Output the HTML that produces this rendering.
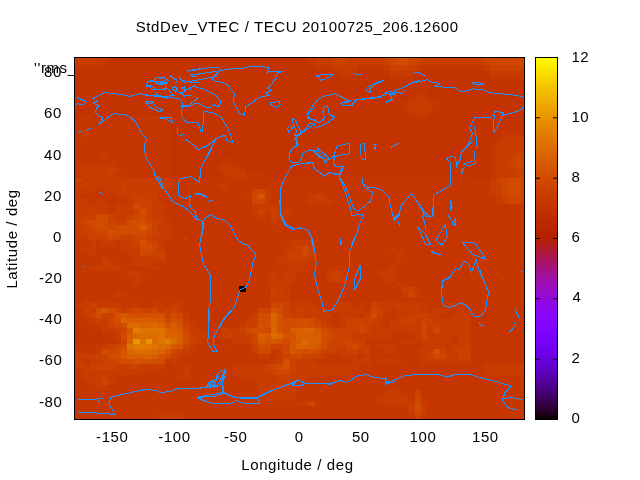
<!DOCTYPE html><html><head><meta charset="utf-8"><style>html,body{margin:0;padding:0;background:#fff;overflow:hidden}svg{display:block;will-change:transform}</style></head><body><svg width="640" height="480" viewBox="0 0 640 480"><rect x="0" y="0" width="640" height="480" fill="#fff"/><text x="34" y="73.2" font-size="15" letter-spacing="0.6" font-family="Liberation Sans, sans-serif">''rms_</text><rect x="75" y="58" width="449" height="361" fill="#c33300"/><g shape-rendering="crispEdges"><rect x="75.0" y="58.0" width="33.4" height="1.3" fill="#c83c00"/><rect x="108.4" y="58.0" width="6.2" height="1.3" fill="#c63700"/><rect x="302.1" y="58.0" width="6.2" height="1.3" fill="#c63700"/><rect x="308.4" y="58.0" width="18.8" height="1.3" fill="#c83c00"/><rect x="327.1" y="58.0" width="6.2" height="1.3" fill="#cb4100"/><rect x="333.4" y="58.0" width="12.5" height="1.3" fill="#ce4600"/><rect x="345.9" y="58.0" width="6.2" height="1.3" fill="#cb4100"/><rect x="352.1" y="58.0" width="25.0" height="1.3" fill="#c83c00"/><rect x="377.1" y="58.0" width="6.2" height="1.3" fill="#cb4100"/><rect x="383.4" y="58.0" width="6.2" height="1.3" fill="#ce4600"/><rect x="389.6" y="58.0" width="6.2" height="1.3" fill="#d04c00"/><rect x="395.9" y="58.0" width="12.5" height="1.3" fill="#d35100"/><rect x="408.4" y="58.0" width="6.2" height="1.3" fill="#d04c00"/><rect x="414.6" y="58.0" width="6.2" height="1.3" fill="#ce4600"/><rect x="420.9" y="58.0" width="6.2" height="1.3" fill="#cb4100"/><rect x="427.1" y="58.0" width="50.0" height="1.3" fill="#c83c00"/><rect x="477.1" y="58.0" width="6.2" height="1.3" fill="#cb4100"/><rect x="483.4" y="58.0" width="40.6" height="1.3" fill="#ce4600"/><rect x="75.0" y="59.3" width="27.1" height="5.2" fill="#c83c00"/><rect x="102.1" y="59.3" width="6.2" height="5.2" fill="#c63700"/><rect x="308.4" y="59.3" width="6.2" height="5.2" fill="#c63700"/><rect x="314.6" y="59.3" width="18.8" height="5.2" fill="#c83c00"/><rect x="333.4" y="59.3" width="12.5" height="5.2" fill="#cb4100"/><rect x="345.9" y="59.3" width="37.5" height="5.2" fill="#c83c00"/><rect x="383.4" y="59.3" width="6.2" height="5.2" fill="#cb4100"/><rect x="389.6" y="59.3" width="6.2" height="5.2" fill="#ce4600"/><rect x="395.9" y="59.3" width="12.5" height="5.2" fill="#d04c00"/><rect x="408.4" y="59.3" width="6.2" height="5.2" fill="#ce4600"/><rect x="414.6" y="59.3" width="6.2" height="5.2" fill="#cb4100"/><rect x="420.9" y="59.3" width="62.5" height="5.2" fill="#c83c00"/><rect x="483.4" y="59.3" width="6.2" height="5.2" fill="#cb4100"/><rect x="489.6" y="59.3" width="34.4" height="5.2" fill="#ce4600"/><rect x="75.0" y="64.5" width="27.1" height="5.2" fill="#c63700"/><rect x="314.6" y="64.5" width="18.8" height="5.2" fill="#c63700"/><rect x="333.4" y="64.5" width="25.0" height="5.2" fill="#c83c00"/><rect x="358.4" y="64.5" width="25.0" height="5.2" fill="#c63700"/><rect x="383.4" y="64.5" width="6.2" height="5.2" fill="#c83c00"/><rect x="389.6" y="64.5" width="25.0" height="5.2" fill="#cb4100"/><rect x="414.6" y="64.5" width="6.2" height="5.2" fill="#c83c00"/><rect x="420.9" y="64.5" width="62.5" height="5.2" fill="#c63700"/><rect x="483.4" y="64.5" width="6.2" height="5.2" fill="#c83c00"/><rect x="489.6" y="64.5" width="34.4" height="5.2" fill="#cb4100"/><rect x="333.4" y="69.6" width="6.2" height="5.2" fill="#c63700"/><rect x="339.6" y="69.6" width="12.5" height="5.2" fill="#c83c00"/><rect x="352.1" y="69.6" width="6.2" height="5.2" fill="#c63700"/><rect x="383.4" y="69.6" width="6.2" height="5.2" fill="#c63700"/><rect x="389.6" y="69.6" width="25.0" height="5.2" fill="#c83c00"/><rect x="414.6" y="69.6" width="6.2" height="5.2" fill="#c63700"/><rect x="483.4" y="69.6" width="6.2" height="5.2" fill="#c63700"/><rect x="489.6" y="69.6" width="34.4" height="5.2" fill="#c83c00"/><rect x="339.6" y="74.8" width="12.5" height="5.2" fill="#c63700"/><rect x="389.6" y="74.8" width="25.0" height="5.2" fill="#c63700"/><rect x="489.6" y="74.8" width="34.4" height="5.2" fill="#c63700"/><rect x="414.6" y="90.3" width="12.5" height="5.2" fill="#c63700"/><rect x="408.4" y="95.5" width="6.2" height="5.2" fill="#c63700"/><rect x="414.6" y="95.5" width="12.5" height="5.2" fill="#c83c00"/><rect x="427.1" y="95.5" width="6.2" height="5.2" fill="#c63700"/><rect x="402.1" y="100.7" width="6.2" height="5.2" fill="#c63700"/><rect x="408.4" y="100.7" width="25.0" height="5.2" fill="#c83c00"/><rect x="433.4" y="100.7" width="6.2" height="5.2" fill="#c63700"/><rect x="402.1" y="105.8" width="6.2" height="5.2" fill="#c63700"/><rect x="408.4" y="105.8" width="25.0" height="5.2" fill="#c83c00"/><rect x="433.4" y="105.8" width="6.2" height="5.2" fill="#c63700"/><rect x="408.4" y="111.0" width="6.2" height="5.2" fill="#c63700"/><rect x="414.6" y="111.0" width="12.5" height="5.2" fill="#c83c00"/><rect x="427.1" y="111.0" width="6.2" height="5.2" fill="#c63700"/><rect x="75.0" y="116.2" width="95.9" height="5.2" fill="#c43500"/><rect x="414.6" y="116.2" width="12.5" height="5.2" fill="#c63700"/><rect x="75.0" y="121.3" width="8.4" height="5.2" fill="#c63700"/><rect x="83.4" y="121.3" width="87.5" height="5.2" fill="#c43500"/><rect x="75.0" y="126.5" width="45.9" height="5.2" fill="#c63700"/><rect x="120.9" y="126.5" width="50.0" height="5.2" fill="#c43500"/><rect x="75.0" y="131.7" width="8.4" height="5.2" fill="#c63700"/><rect x="83.4" y="131.7" width="6.2" height="5.2" fill="#c83c00"/><rect x="89.6" y="131.7" width="37.5" height="5.2" fill="#c63700"/><rect x="127.1" y="131.7" width="43.8" height="5.2" fill="#c43500"/><rect x="502.1" y="131.7" width="21.9" height="5.2" fill="#c63700"/><rect x="75.0" y="136.9" width="52.1" height="5.2" fill="#c63700"/><rect x="127.1" y="136.9" width="43.8" height="5.2" fill="#c43500"/><rect x="495.9" y="136.9" width="6.2" height="5.2" fill="#c63700"/><rect x="502.1" y="136.9" width="21.9" height="5.2" fill="#c83c00"/><rect x="75.0" y="142.0" width="52.1" height="5.2" fill="#c63700"/><rect x="127.1" y="142.0" width="43.8" height="5.2" fill="#c43500"/><rect x="489.6" y="142.0" width="6.2" height="5.2" fill="#c63700"/><rect x="495.9" y="142.0" width="28.1" height="5.2" fill="#c83c00"/><rect x="75.0" y="147.2" width="52.1" height="5.2" fill="#c63700"/><rect x="127.1" y="147.2" width="43.8" height="5.2" fill="#c43500"/><rect x="489.6" y="147.2" width="6.2" height="5.2" fill="#c63700"/><rect x="495.9" y="147.2" width="28.1" height="5.2" fill="#c83c00"/><rect x="75.0" y="152.4" width="27.1" height="5.2" fill="#c63700"/><rect x="102.1" y="152.4" width="6.2" height="5.2" fill="#c83c00"/><rect x="108.4" y="152.4" width="18.8" height="5.2" fill="#c63700"/><rect x="127.1" y="152.4" width="43.8" height="5.2" fill="#c43500"/><rect x="489.6" y="152.4" width="6.2" height="5.2" fill="#c63700"/><rect x="495.9" y="152.4" width="18.8" height="5.2" fill="#c83c00"/><rect x="514.6" y="152.4" width="9.4" height="5.2" fill="#cb4100"/><rect x="75.0" y="157.5" width="52.1" height="5.2" fill="#c63700"/><rect x="127.1" y="157.5" width="43.8" height="5.2" fill="#c43500"/><rect x="220.9" y="157.5" width="12.5" height="5.2" fill="#c63700"/><rect x="489.6" y="157.5" width="6.2" height="5.2" fill="#c63700"/><rect x="495.9" y="157.5" width="12.5" height="5.2" fill="#c83c00"/><rect x="508.4" y="157.5" width="6.2" height="5.2" fill="#cb4100"/><rect x="514.6" y="157.5" width="9.4" height="5.2" fill="#ce4600"/><rect x="75.0" y="162.7" width="2.1" height="5.2" fill="#c63700"/><rect x="77.1" y="162.7" width="37.5" height="5.2" fill="#c83c00"/><rect x="114.6" y="162.7" width="18.8" height="5.2" fill="#c63700"/><rect x="133.4" y="162.7" width="37.5" height="5.2" fill="#c43500"/><rect x="214.6" y="162.7" width="6.2" height="5.2" fill="#c63700"/><rect x="220.9" y="162.7" width="12.5" height="5.2" fill="#c83c00"/><rect x="233.4" y="162.7" width="6.2" height="5.2" fill="#c63700"/><rect x="489.6" y="162.7" width="6.2" height="5.2" fill="#c63700"/><rect x="495.9" y="162.7" width="12.5" height="5.2" fill="#c83c00"/><rect x="508.4" y="162.7" width="6.2" height="5.2" fill="#cb4100"/><rect x="514.6" y="162.7" width="9.4" height="5.2" fill="#ce4600"/><rect x="75.0" y="167.9" width="2.1" height="5.2" fill="#c63700"/><rect x="77.1" y="167.9" width="31.2" height="5.2" fill="#c83c00"/><rect x="108.4" y="167.9" width="6.2" height="5.2" fill="#cb4100"/><rect x="114.6" y="167.9" width="6.2" height="5.2" fill="#c83c00"/><rect x="120.9" y="167.9" width="12.5" height="5.2" fill="#c63700"/><rect x="133.4" y="167.9" width="37.5" height="5.2" fill="#c43500"/><rect x="214.6" y="167.9" width="6.2" height="5.2" fill="#c63700"/><rect x="220.9" y="167.9" width="18.8" height="5.2" fill="#c83c00"/><rect x="239.6" y="167.9" width="6.2" height="5.2" fill="#c63700"/><rect x="489.6" y="167.9" width="6.2" height="5.2" fill="#c63700"/><rect x="495.9" y="167.9" width="18.8" height="5.2" fill="#c83c00"/><rect x="514.6" y="167.9" width="9.4" height="5.2" fill="#cb4100"/><rect x="75.0" y="173.1" width="8.4" height="5.2" fill="#c63700"/><rect x="83.4" y="173.1" width="31.2" height="5.2" fill="#c83c00"/><rect x="114.6" y="173.1" width="18.8" height="5.2" fill="#c63700"/><rect x="133.4" y="173.1" width="37.5" height="5.2" fill="#c43500"/><rect x="220.9" y="173.1" width="6.2" height="5.2" fill="#c63700"/><rect x="227.1" y="173.1" width="18.8" height="5.2" fill="#c83c00"/><rect x="245.9" y="173.1" width="18.8" height="5.2" fill="#c63700"/><rect x="489.6" y="173.1" width="6.2" height="5.2" fill="#c63700"/><rect x="495.9" y="173.1" width="18.8" height="5.2" fill="#c83c00"/><rect x="514.6" y="173.1" width="9.4" height="5.2" fill="#cb4100"/><rect x="75.0" y="178.2" width="8.4" height="5.2" fill="#cb4100"/><rect x="83.4" y="178.2" width="87.5" height="5.2" fill="#c83c00"/><rect x="170.9" y="178.2" width="6.2" height="5.2" fill="#c63700"/><rect x="177.1" y="178.2" width="37.5" height="5.2" fill="#c43500"/><rect x="214.6" y="178.2" width="68.8" height="5.2" fill="#c63700"/><rect x="283.4" y="178.2" width="187.5" height="5.2" fill="#c43500"/><rect x="470.9" y="178.2" width="18.8" height="5.2" fill="#c63700"/><rect x="489.6" y="178.2" width="6.2" height="5.2" fill="#c83c00"/><rect x="495.9" y="178.2" width="6.2" height="5.2" fill="#cb4100"/><rect x="502.1" y="178.2" width="6.2" height="5.2" fill="#ce4600"/><rect x="508.4" y="178.2" width="12.5" height="5.2" fill="#d04c00"/><rect x="520.9" y="178.2" width="3.1" height="5.2" fill="#ce4600"/><rect x="75.0" y="183.4" width="45.9" height="5.2" fill="#c83c00"/><rect x="120.9" y="183.4" width="6.2" height="5.2" fill="#cb4100"/><rect x="127.1" y="183.4" width="43.8" height="5.2" fill="#c83c00"/><rect x="170.9" y="183.4" width="6.2" height="5.2" fill="#c63700"/><rect x="177.1" y="183.4" width="37.5" height="5.2" fill="#c43500"/><rect x="214.6" y="183.4" width="6.2" height="5.2" fill="#c63700"/><rect x="220.9" y="183.4" width="6.2" height="5.2" fill="#c83c00"/><rect x="227.1" y="183.4" width="56.2" height="5.2" fill="#c63700"/><rect x="283.4" y="183.4" width="187.5" height="5.2" fill="#c43500"/><rect x="470.9" y="183.4" width="18.8" height="5.2" fill="#c63700"/><rect x="489.6" y="183.4" width="6.2" height="5.2" fill="#c83c00"/><rect x="495.9" y="183.4" width="6.2" height="5.2" fill="#cb4100"/><rect x="502.1" y="183.4" width="6.2" height="5.2" fill="#ce4600"/><rect x="508.4" y="183.4" width="12.5" height="5.2" fill="#d04c00"/><rect x="520.9" y="183.4" width="3.1" height="5.2" fill="#ce4600"/><rect x="75.0" y="188.6" width="8.4" height="5.2" fill="#c83c00"/><rect x="83.4" y="188.6" width="6.2" height="5.2" fill="#c63700"/><rect x="89.6" y="188.6" width="6.2" height="5.2" fill="#c83c00"/><rect x="95.9" y="188.6" width="12.5" height="5.2" fill="#c63700"/><rect x="108.4" y="188.6" width="12.5" height="5.2" fill="#c83c00"/><rect x="120.9" y="188.6" width="6.2" height="5.2" fill="#cb4100"/><rect x="127.1" y="188.6" width="31.2" height="5.2" fill="#c83c00"/><rect x="158.4" y="188.6" width="12.5" height="5.2" fill="#c63700"/><rect x="170.9" y="188.6" width="50.0" height="5.2" fill="#c43500"/><rect x="220.9" y="188.6" width="31.2" height="5.2" fill="#c63700"/><rect x="252.1" y="188.6" width="12.5" height="5.2" fill="#ce4600"/><rect x="264.6" y="188.6" width="6.2" height="5.2" fill="#c83c00"/><rect x="270.9" y="188.6" width="12.5" height="5.2" fill="#c63700"/><rect x="283.4" y="188.6" width="25.0" height="5.2" fill="#c43500"/><rect x="308.4" y="188.6" width="25.0" height="5.2" fill="#c63700"/><rect x="333.4" y="188.6" width="137.5" height="5.2" fill="#c43500"/><rect x="470.9" y="188.6" width="18.8" height="5.2" fill="#c63700"/><rect x="489.6" y="188.6" width="6.2" height="5.2" fill="#c83c00"/><rect x="495.9" y="188.6" width="6.2" height="5.2" fill="#cb4100"/><rect x="502.1" y="188.6" width="6.2" height="5.2" fill="#ce4600"/><rect x="508.4" y="188.6" width="12.5" height="5.2" fill="#d04c00"/><rect x="520.9" y="188.6" width="3.1" height="5.2" fill="#ce4600"/><rect x="75.0" y="193.7" width="2.1" height="5.2" fill="#c83c00"/><rect x="77.1" y="193.7" width="37.5" height="5.2" fill="#c63700"/><rect x="114.6" y="193.7" width="18.8" height="5.2" fill="#c83c00"/><rect x="133.4" y="193.7" width="12.5" height="5.2" fill="#cb4100"/><rect x="145.9" y="193.7" width="12.5" height="5.2" fill="#c83c00"/><rect x="158.4" y="193.7" width="12.5" height="5.2" fill="#c63700"/><rect x="170.9" y="193.7" width="62.5" height="5.2" fill="#c43500"/><rect x="233.4" y="193.7" width="12.5" height="5.2" fill="#c63700"/><rect x="245.9" y="193.7" width="6.2" height="5.2" fill="#c83c00"/><rect x="252.1" y="193.7" width="6.2" height="5.2" fill="#ce4600"/><rect x="258.4" y="193.7" width="6.2" height="5.2" fill="#d55700"/><rect x="264.6" y="193.7" width="6.2" height="5.2" fill="#c83c00"/><rect x="270.9" y="193.7" width="12.5" height="5.2" fill="#c63700"/><rect x="283.4" y="193.7" width="25.0" height="5.2" fill="#c43500"/><rect x="308.4" y="193.7" width="6.2" height="5.2" fill="#c83c00"/><rect x="314.6" y="193.7" width="6.2" height="5.2" fill="#cb4100"/><rect x="320.9" y="193.7" width="6.2" height="5.2" fill="#c83c00"/><rect x="327.1" y="193.7" width="6.2" height="5.2" fill="#c63700"/><rect x="333.4" y="193.7" width="137.5" height="5.2" fill="#c43500"/><rect x="470.9" y="193.7" width="25.0" height="5.2" fill="#c63700"/><rect x="495.9" y="193.7" width="6.2" height="5.2" fill="#c83c00"/><rect x="502.1" y="193.7" width="6.2" height="5.2" fill="#cb4100"/><rect x="508.4" y="193.7" width="12.5" height="5.2" fill="#ce4600"/><rect x="520.9" y="193.7" width="3.1" height="5.2" fill="#cb4100"/><rect x="75.0" y="198.9" width="14.6" height="5.2" fill="#c83c00"/><rect x="89.6" y="198.9" width="6.2" height="5.2" fill="#c63700"/><rect x="95.9" y="198.9" width="6.2" height="5.2" fill="#c83c00"/><rect x="102.1" y="198.9" width="25.0" height="5.2" fill="#c63700"/><rect x="127.1" y="198.9" width="6.2" height="5.2" fill="#c83c00"/><rect x="133.4" y="198.9" width="18.8" height="5.2" fill="#cb4100"/><rect x="152.1" y="198.9" width="6.2" height="5.2" fill="#c83c00"/><rect x="158.4" y="198.9" width="12.5" height="5.2" fill="#c63700"/><rect x="170.9" y="198.9" width="62.5" height="5.2" fill="#c43500"/><rect x="233.4" y="198.9" width="18.8" height="5.2" fill="#c63700"/><rect x="252.1" y="198.9" width="12.5" height="5.2" fill="#ce4600"/><rect x="264.6" y="198.9" width="6.2" height="5.2" fill="#c83c00"/><rect x="270.9" y="198.9" width="12.5" height="5.2" fill="#c63700"/><rect x="283.4" y="198.9" width="25.0" height="5.2" fill="#c43500"/><rect x="308.4" y="198.9" width="25.0" height="5.2" fill="#c83c00"/><rect x="333.4" y="198.9" width="12.5" height="5.2" fill="#c63700"/><rect x="345.9" y="198.9" width="125.0" height="5.2" fill="#c43500"/><rect x="470.9" y="198.9" width="25.0" height="5.2" fill="#c63700"/><rect x="495.9" y="198.9" width="6.2" height="5.2" fill="#c83c00"/><rect x="502.1" y="198.9" width="6.2" height="5.2" fill="#cb4100"/><rect x="508.4" y="198.9" width="12.5" height="5.2" fill="#ce4600"/><rect x="520.9" y="198.9" width="3.1" height="5.2" fill="#cb4100"/><rect x="75.0" y="204.1" width="33.4" height="5.2" fill="#c83c00"/><rect x="108.4" y="204.1" width="6.2" height="5.2" fill="#c63700"/><rect x="114.6" y="204.1" width="18.8" height="5.2" fill="#c83c00"/><rect x="133.4" y="204.1" width="6.2" height="5.2" fill="#d04c00"/><rect x="139.6" y="204.1" width="12.5" height="5.2" fill="#cb4100"/><rect x="152.1" y="204.1" width="12.5" height="5.2" fill="#c83c00"/><rect x="164.6" y="204.1" width="6.2" height="5.2" fill="#c63700"/><rect x="170.9" y="204.1" width="68.8" height="5.2" fill="#c43500"/><rect x="239.6" y="204.1" width="12.5" height="5.2" fill="#c63700"/><rect x="252.1" y="204.1" width="25.0" height="5.2" fill="#c83c00"/><rect x="277.1" y="204.1" width="12.5" height="5.2" fill="#c63700"/><rect x="289.6" y="204.1" width="18.8" height="5.2" fill="#c43500"/><rect x="308.4" y="204.1" width="25.0" height="5.2" fill="#c63700"/><rect x="333.4" y="204.1" width="137.5" height="5.2" fill="#c43500"/><rect x="470.9" y="204.1" width="53.1" height="5.2" fill="#c63700"/><rect x="75.0" y="209.3" width="14.6" height="5.2" fill="#c83c00"/><rect x="89.6" y="209.3" width="6.2" height="5.2" fill="#cb4100"/><rect x="95.9" y="209.3" width="12.5" height="5.2" fill="#c83c00"/><rect x="108.4" y="209.3" width="6.2" height="5.2" fill="#c63700"/><rect x="114.6" y="209.3" width="18.8" height="5.2" fill="#c83c00"/><rect x="133.4" y="209.3" width="6.2" height="5.2" fill="#cb4100"/><rect x="139.6" y="209.3" width="6.2" height="5.2" fill="#d24e00"/><rect x="145.9" y="209.3" width="6.2" height="5.2" fill="#cb4100"/><rect x="152.1" y="209.3" width="12.5" height="5.2" fill="#c83c00"/><rect x="164.6" y="209.3" width="6.2" height="5.2" fill="#c63700"/><rect x="170.9" y="209.3" width="68.8" height="5.2" fill="#c43500"/><rect x="239.6" y="209.3" width="12.5" height="5.2" fill="#c63700"/><rect x="252.1" y="209.3" width="6.2" height="5.2" fill="#c83c00"/><rect x="258.4" y="209.3" width="6.2" height="5.2" fill="#cb4100"/><rect x="264.6" y="209.3" width="6.2" height="5.2" fill="#c83c00"/><rect x="270.9" y="209.3" width="6.2" height="5.2" fill="#cb4100"/><rect x="277.1" y="209.3" width="12.5" height="5.2" fill="#c83c00"/><rect x="289.6" y="209.3" width="6.2" height="5.2" fill="#c63700"/><rect x="295.9" y="209.3" width="175.0" height="5.2" fill="#c43500"/><rect x="470.9" y="209.3" width="53.1" height="5.2" fill="#c63700"/><rect x="75.0" y="214.4" width="8.4" height="5.2" fill="#c83c00"/><rect x="83.4" y="214.4" width="12.5" height="5.2" fill="#cb4100"/><rect x="95.9" y="214.4" width="12.5" height="5.2" fill="#d04c00"/><rect x="108.4" y="214.4" width="6.2" height="5.2" fill="#cb4100"/><rect x="114.6" y="214.4" width="12.5" height="5.2" fill="#c83c00"/><rect x="127.1" y="214.4" width="6.2" height="5.2" fill="#cb4100"/><rect x="133.4" y="214.4" width="6.2" height="5.2" fill="#ce4600"/><rect x="139.6" y="214.4" width="6.2" height="5.2" fill="#d04c00"/><rect x="145.9" y="214.4" width="6.2" height="5.2" fill="#cb4100"/><rect x="152.1" y="214.4" width="12.5" height="5.2" fill="#c83c00"/><rect x="164.6" y="214.4" width="6.2" height="5.2" fill="#c63700"/><rect x="170.9" y="214.4" width="75.0" height="5.2" fill="#c43500"/><rect x="245.9" y="214.4" width="12.5" height="5.2" fill="#c63700"/><rect x="258.4" y="214.4" width="6.2" height="5.2" fill="#c83c00"/><rect x="264.6" y="214.4" width="6.2" height="5.2" fill="#c63700"/><rect x="270.9" y="214.4" width="6.2" height="5.2" fill="#cb4100"/><rect x="277.1" y="214.4" width="6.2" height="5.2" fill="#c83c00"/><rect x="283.4" y="214.4" width="12.5" height="5.2" fill="#c63700"/><rect x="295.9" y="214.4" width="175.0" height="5.2" fill="#c43500"/><rect x="470.9" y="214.4" width="53.1" height="5.2" fill="#c63700"/><rect x="75.0" y="219.6" width="2.1" height="5.2" fill="#c83c00"/><rect x="77.1" y="219.6" width="6.2" height="5.2" fill="#cb4100"/><rect x="83.4" y="219.6" width="6.2" height="5.2" fill="#ce4600"/><rect x="89.6" y="219.6" width="18.8" height="5.2" fill="#d04c00"/><rect x="108.4" y="219.6" width="18.8" height="5.2" fill="#cb4100"/><rect x="127.1" y="219.6" width="18.8" height="5.2" fill="#d04c00"/><rect x="145.9" y="219.6" width="6.2" height="5.2" fill="#ce4600"/><rect x="152.1" y="219.6" width="6.2" height="5.2" fill="#cb4100"/><rect x="158.4" y="219.6" width="12.5" height="5.2" fill="#c83c00"/><rect x="170.9" y="219.6" width="81.2" height="5.2" fill="#c43500"/><rect x="252.1" y="219.6" width="18.8" height="5.2" fill="#c63700"/><rect x="270.9" y="219.6" width="6.2" height="5.2" fill="#c83c00"/><rect x="277.1" y="219.6" width="12.5" height="5.2" fill="#c63700"/><rect x="289.6" y="219.6" width="181.2" height="5.2" fill="#c43500"/><rect x="470.9" y="219.6" width="53.1" height="5.2" fill="#c63700"/><rect x="75.0" y="224.8" width="2.1" height="5.2" fill="#c63700"/><rect x="77.1" y="224.8" width="6.2" height="5.2" fill="#c83c00"/><rect x="83.4" y="224.8" width="6.2" height="5.2" fill="#cb4100"/><rect x="89.6" y="224.8" width="6.2" height="5.2" fill="#ce4600"/><rect x="95.9" y="224.8" width="12.5" height="5.2" fill="#d04c00"/><rect x="108.4" y="224.8" width="6.2" height="5.2" fill="#ce4600"/><rect x="114.6" y="224.8" width="18.8" height="5.2" fill="#d04c00"/><rect x="133.4" y="224.8" width="6.2" height="5.2" fill="#d24e00"/><rect x="139.6" y="224.8" width="6.2" height="5.2" fill="#d85e00"/><rect x="145.9" y="224.8" width="6.2" height="5.2" fill="#d04c00"/><rect x="152.1" y="224.8" width="6.2" height="5.2" fill="#cb4100"/><rect x="158.4" y="224.8" width="12.5" height="5.2" fill="#c83c00"/><rect x="170.9" y="224.8" width="6.2" height="5.2" fill="#c63700"/><rect x="177.1" y="224.8" width="75.0" height="5.2" fill="#c43500"/><rect x="252.1" y="224.8" width="31.2" height="5.2" fill="#c63700"/><rect x="283.4" y="224.8" width="81.2" height="5.2" fill="#c43500"/><rect x="364.6" y="224.8" width="6.2" height="5.2" fill="#c63700"/><rect x="370.9" y="224.8" width="100.0" height="5.2" fill="#c43500"/><rect x="470.9" y="224.8" width="53.1" height="5.2" fill="#c63700"/><rect x="75.0" y="229.9" width="2.1" height="5.2" fill="#c63700"/><rect x="77.1" y="229.9" width="6.2" height="5.2" fill="#c83c00"/><rect x="83.4" y="229.9" width="12.5" height="5.2" fill="#cb4100"/><rect x="95.9" y="229.9" width="12.5" height="5.2" fill="#ce4600"/><rect x="108.4" y="229.9" width="6.2" height="5.2" fill="#d35100"/><rect x="114.6" y="229.9" width="31.2" height="5.2" fill="#d04c00"/><rect x="145.9" y="229.9" width="6.2" height="5.2" fill="#ce4600"/><rect x="152.1" y="229.9" width="6.2" height="5.2" fill="#cb4100"/><rect x="158.4" y="229.9" width="12.5" height="5.2" fill="#c83c00"/><rect x="170.9" y="229.9" width="6.2" height="5.2" fill="#c63700"/><rect x="177.1" y="229.9" width="81.2" height="5.2" fill="#c43500"/><rect x="258.4" y="229.9" width="31.2" height="5.2" fill="#c63700"/><rect x="289.6" y="229.9" width="68.8" height="5.2" fill="#c43500"/><rect x="358.4" y="229.9" width="12.5" height="5.2" fill="#c63700"/><rect x="370.9" y="229.9" width="100.0" height="5.2" fill="#c43500"/><rect x="470.9" y="229.9" width="53.1" height="5.2" fill="#c63700"/><rect x="75.0" y="235.1" width="2.1" height="5.2" fill="#c63700"/><rect x="77.1" y="235.1" width="12.5" height="5.2" fill="#c83c00"/><rect x="89.6" y="235.1" width="18.8" height="5.2" fill="#cb4100"/><rect x="108.4" y="235.1" width="12.5" height="5.2" fill="#ce4600"/><rect x="120.9" y="235.1" width="12.5" height="5.2" fill="#cb4100"/><rect x="133.4" y="235.1" width="12.5" height="5.2" fill="#ce4600"/><rect x="145.9" y="235.1" width="6.2" height="5.2" fill="#cb4100"/><rect x="152.1" y="235.1" width="18.8" height="5.2" fill="#c83c00"/><rect x="170.9" y="235.1" width="12.5" height="5.2" fill="#c63700"/><rect x="183.4" y="235.1" width="87.5" height="5.2" fill="#c43500"/><rect x="270.9" y="235.1" width="18.8" height="5.2" fill="#c63700"/><rect x="289.6" y="235.1" width="68.8" height="5.2" fill="#c43500"/><rect x="358.4" y="235.1" width="12.5" height="5.2" fill="#c63700"/><rect x="370.9" y="235.1" width="100.0" height="5.2" fill="#c43500"/><rect x="470.9" y="235.1" width="53.1" height="5.2" fill="#c63700"/><rect x="75.0" y="240.3" width="14.6" height="5.2" fill="#c63700"/><rect x="89.6" y="240.3" width="6.2" height="5.2" fill="#c83c00"/><rect x="95.9" y="240.3" width="6.2" height="5.2" fill="#c63700"/><rect x="102.1" y="240.3" width="12.5" height="5.2" fill="#c83c00"/><rect x="114.6" y="240.3" width="6.2" height="5.2" fill="#c63700"/><rect x="120.9" y="240.3" width="12.5" height="5.2" fill="#c83c00"/><rect x="133.4" y="240.3" width="6.2" height="5.2" fill="#cb4100"/><rect x="139.6" y="240.3" width="6.2" height="5.2" fill="#d35100"/><rect x="145.9" y="240.3" width="6.2" height="5.2" fill="#ce4600"/><rect x="152.1" y="240.3" width="6.2" height="5.2" fill="#cb4100"/><rect x="158.4" y="240.3" width="6.2" height="5.2" fill="#c83c00"/><rect x="164.6" y="240.3" width="18.8" height="5.2" fill="#c63700"/><rect x="183.4" y="240.3" width="81.2" height="5.2" fill="#c43500"/><rect x="264.6" y="240.3" width="25.0" height="5.2" fill="#c63700"/><rect x="289.6" y="240.3" width="25.0" height="5.2" fill="#c83c00"/><rect x="314.6" y="240.3" width="12.5" height="5.2" fill="#c63700"/><rect x="327.1" y="240.3" width="56.2" height="5.2" fill="#c43500"/><rect x="383.4" y="240.3" width="12.5" height="5.2" fill="#c63700"/><rect x="395.9" y="240.3" width="56.2" height="5.2" fill="#c43500"/><rect x="452.1" y="240.3" width="12.5" height="5.2" fill="#c63700"/><rect x="464.6" y="240.3" width="6.2" height="5.2" fill="#c43500"/><rect x="470.9" y="240.3" width="53.1" height="5.2" fill="#c63700"/><rect x="75.0" y="245.5" width="8.4" height="5.2" fill="#c63700"/><rect x="83.4" y="245.5" width="12.5" height="5.2" fill="#c83c00"/><rect x="95.9" y="245.5" width="25.0" height="5.2" fill="#c63700"/><rect x="120.9" y="245.5" width="18.8" height="5.2" fill="#c83c00"/><rect x="139.6" y="245.5" width="6.2" height="5.2" fill="#d04c00"/><rect x="145.9" y="245.5" width="6.2" height="5.2" fill="#d24e00"/><rect x="152.1" y="245.5" width="6.2" height="5.2" fill="#ce4600"/><rect x="158.4" y="245.5" width="6.2" height="5.2" fill="#c83c00"/><rect x="164.6" y="245.5" width="18.8" height="5.2" fill="#c63700"/><rect x="183.4" y="245.5" width="81.2" height="5.2" fill="#c43500"/><rect x="264.6" y="245.5" width="18.8" height="5.2" fill="#c63700"/><rect x="283.4" y="245.5" width="12.5" height="5.2" fill="#c83c00"/><rect x="295.9" y="245.5" width="6.2" height="5.2" fill="#cb4100"/><rect x="302.1" y="245.5" width="6.2" height="5.2" fill="#d04c00"/><rect x="308.4" y="245.5" width="6.2" height="5.2" fill="#cb4100"/><rect x="314.6" y="245.5" width="6.2" height="5.2" fill="#c63700"/><rect x="320.9" y="245.5" width="56.2" height="5.2" fill="#c43500"/><rect x="377.1" y="245.5" width="12.5" height="5.2" fill="#c63700"/><rect x="389.6" y="245.5" width="6.2" height="5.2" fill="#c83c00"/><rect x="395.9" y="245.5" width="6.2" height="5.2" fill="#c63700"/><rect x="402.1" y="245.5" width="50.0" height="5.2" fill="#c43500"/><rect x="452.1" y="245.5" width="6.2" height="5.2" fill="#c63700"/><rect x="458.4" y="245.5" width="12.5" height="5.2" fill="#c43500"/><rect x="470.9" y="245.5" width="53.1" height="5.2" fill="#c63700"/><rect x="75.0" y="250.6" width="14.6" height="5.2" fill="#c63700"/><rect x="89.6" y="250.6" width="6.2" height="5.2" fill="#c83c00"/><rect x="95.9" y="250.6" width="31.2" height="5.2" fill="#c63700"/><rect x="127.1" y="250.6" width="12.5" height="5.2" fill="#c83c00"/><rect x="139.6" y="250.6" width="12.5" height="5.2" fill="#ce4600"/><rect x="152.1" y="250.6" width="12.5" height="5.2" fill="#cb4100"/><rect x="164.6" y="250.6" width="18.8" height="5.2" fill="#c63700"/><rect x="183.4" y="250.6" width="81.2" height="5.2" fill="#c43500"/><rect x="264.6" y="250.6" width="18.8" height="5.2" fill="#c63700"/><rect x="283.4" y="250.6" width="6.2" height="5.2" fill="#c83c00"/><rect x="289.6" y="250.6" width="12.5" height="5.2" fill="#cb4100"/><rect x="302.1" y="250.6" width="6.2" height="5.2" fill="#ce4600"/><rect x="308.4" y="250.6" width="6.2" height="5.2" fill="#cb4100"/><rect x="314.6" y="250.6" width="6.2" height="5.2" fill="#c63700"/><rect x="320.9" y="250.6" width="62.5" height="5.2" fill="#c43500"/><rect x="383.4" y="250.6" width="12.5" height="5.2" fill="#c63700"/><rect x="395.9" y="250.6" width="6.2" height="5.2" fill="#c83c00"/><rect x="402.1" y="250.6" width="6.2" height="5.2" fill="#c63700"/><rect x="408.4" y="250.6" width="62.5" height="5.2" fill="#c43500"/><rect x="470.9" y="250.6" width="53.1" height="5.2" fill="#c63700"/><rect x="75.0" y="255.8" width="27.1" height="5.2" fill="#c63700"/><rect x="102.1" y="255.8" width="6.2" height="5.2" fill="#c83c00"/><rect x="108.4" y="255.8" width="25.0" height="5.2" fill="#c63700"/><rect x="133.4" y="255.8" width="25.0" height="5.2" fill="#c83c00"/><rect x="158.4" y="255.8" width="6.2" height="5.2" fill="#cb4100"/><rect x="164.6" y="255.8" width="18.8" height="5.2" fill="#c63700"/><rect x="183.4" y="255.8" width="81.2" height="5.2" fill="#c43500"/><rect x="264.6" y="255.8" width="12.5" height="5.2" fill="#c63700"/><rect x="277.1" y="255.8" width="12.5" height="5.2" fill="#c83c00"/><rect x="289.6" y="255.8" width="18.8" height="5.2" fill="#cb4100"/><rect x="308.4" y="255.8" width="6.2" height="5.2" fill="#c83c00"/><rect x="314.6" y="255.8" width="6.2" height="5.2" fill="#c63700"/><rect x="320.9" y="255.8" width="62.5" height="5.2" fill="#c43500"/><rect x="383.4" y="255.8" width="12.5" height="5.2" fill="#c63700"/><rect x="395.9" y="255.8" width="6.2" height="5.2" fill="#c83c00"/><rect x="402.1" y="255.8" width="12.5" height="5.2" fill="#c63700"/><rect x="414.6" y="255.8" width="56.2" height="5.2" fill="#c43500"/><rect x="470.9" y="255.8" width="53.1" height="5.2" fill="#c63700"/><rect x="75.0" y="261.0" width="27.1" height="5.2" fill="#c63700"/><rect x="102.1" y="261.0" width="6.2" height="5.2" fill="#cb4100"/><rect x="108.4" y="261.0" width="6.2" height="5.2" fill="#c83c00"/><rect x="114.6" y="261.0" width="18.8" height="5.2" fill="#c63700"/><rect x="133.4" y="261.0" width="18.8" height="5.2" fill="#c83c00"/><rect x="152.1" y="261.0" width="31.2" height="5.2" fill="#c63700"/><rect x="183.4" y="261.0" width="81.2" height="5.2" fill="#c43500"/><rect x="264.6" y="261.0" width="18.8" height="5.2" fill="#c63700"/><rect x="283.4" y="261.0" width="25.0" height="5.2" fill="#c83c00"/><rect x="308.4" y="261.0" width="6.2" height="5.2" fill="#c63700"/><rect x="314.6" y="261.0" width="75.0" height="5.2" fill="#c43500"/><rect x="389.6" y="261.0" width="18.8" height="5.2" fill="#c63700"/><rect x="408.4" y="261.0" width="62.5" height="5.2" fill="#c43500"/><rect x="470.9" y="261.0" width="53.1" height="5.2" fill="#c63700"/><rect x="75.0" y="266.1" width="14.6" height="5.2" fill="#c63700"/><rect x="89.6" y="266.1" width="31.2" height="5.2" fill="#c83c00"/><rect x="120.9" y="266.1" width="6.2" height="5.2" fill="#c63700"/><rect x="127.1" y="266.1" width="6.2" height="5.2" fill="#c43500"/><rect x="133.4" y="266.1" width="18.8" height="5.2" fill="#c63700"/><rect x="152.1" y="266.1" width="6.2" height="5.2" fill="#c83c00"/><rect x="158.4" y="266.1" width="25.0" height="5.2" fill="#c63700"/><rect x="183.4" y="266.1" width="81.2" height="5.2" fill="#c43500"/><rect x="264.6" y="266.1" width="25.0" height="5.2" fill="#c63700"/><rect x="289.6" y="266.1" width="12.5" height="5.2" fill="#c83c00"/><rect x="302.1" y="266.1" width="12.5" height="5.2" fill="#c63700"/><rect x="314.6" y="266.1" width="12.5" height="5.2" fill="#c43500"/><rect x="327.1" y="266.1" width="18.8" height="5.2" fill="#c63700"/><rect x="345.9" y="266.1" width="31.2" height="5.2" fill="#c43500"/><rect x="377.1" y="266.1" width="12.5" height="5.2" fill="#c63700"/><rect x="389.6" y="266.1" width="6.2" height="5.2" fill="#c83c00"/><rect x="395.9" y="266.1" width="18.8" height="5.2" fill="#c63700"/><rect x="414.6" y="266.1" width="56.2" height="5.2" fill="#c43500"/><rect x="470.9" y="266.1" width="53.1" height="5.2" fill="#c63700"/><rect x="75.0" y="271.3" width="52.1" height="5.2" fill="#c63700"/><rect x="127.1" y="271.3" width="12.5" height="5.2" fill="#c83c00"/><rect x="139.6" y="271.3" width="43.8" height="5.2" fill="#c63700"/><rect x="183.4" y="271.3" width="81.2" height="5.2" fill="#c43500"/><rect x="264.6" y="271.3" width="6.2" height="5.2" fill="#c63700"/><rect x="270.9" y="271.3" width="6.2" height="5.2" fill="#c83c00"/><rect x="277.1" y="271.3" width="6.2" height="5.2" fill="#c63700"/><rect x="283.4" y="271.3" width="12.5" height="5.2" fill="#c83c00"/><rect x="295.9" y="271.3" width="12.5" height="5.2" fill="#c63700"/><rect x="308.4" y="271.3" width="18.8" height="5.2" fill="#c43500"/><rect x="327.1" y="271.3" width="6.2" height="5.2" fill="#c83c00"/><rect x="333.4" y="271.3" width="6.2" height="5.2" fill="#cb4100"/><rect x="339.6" y="271.3" width="6.2" height="5.2" fill="#c83c00"/><rect x="345.9" y="271.3" width="31.2" height="5.2" fill="#c43500"/><rect x="377.1" y="271.3" width="18.8" height="5.2" fill="#c83c00"/><rect x="395.9" y="271.3" width="18.8" height="5.2" fill="#c63700"/><rect x="414.6" y="271.3" width="6.2" height="5.2" fill="#c43500"/><rect x="420.9" y="271.3" width="6.2" height="5.2" fill="#c63700"/><rect x="427.1" y="271.3" width="43.8" height="5.2" fill="#c43500"/><rect x="470.9" y="271.3" width="53.1" height="5.2" fill="#c63700"/><rect x="75.0" y="276.5" width="58.4" height="5.2" fill="#c63700"/><rect x="133.4" y="276.5" width="12.5" height="5.2" fill="#c83c00"/><rect x="145.9" y="276.5" width="37.5" height="5.2" fill="#c63700"/><rect x="183.4" y="276.5" width="81.2" height="5.2" fill="#c43500"/><rect x="264.6" y="276.5" width="6.2" height="5.2" fill="#c63700"/><rect x="270.9" y="276.5" width="25.0" height="5.2" fill="#c83c00"/><rect x="295.9" y="276.5" width="12.5" height="5.2" fill="#c63700"/><rect x="308.4" y="276.5" width="18.8" height="5.2" fill="#c43500"/><rect x="327.1" y="276.5" width="6.2" height="5.2" fill="#c83c00"/><rect x="333.4" y="276.5" width="6.2" height="5.2" fill="#cb4100"/><rect x="339.6" y="276.5" width="6.2" height="5.2" fill="#c83c00"/><rect x="345.9" y="276.5" width="31.2" height="5.2" fill="#c43500"/><rect x="377.1" y="276.5" width="6.2" height="5.2" fill="#c63700"/><rect x="383.4" y="276.5" width="12.5" height="5.2" fill="#c83c00"/><rect x="395.9" y="276.5" width="12.5" height="5.2" fill="#c63700"/><rect x="408.4" y="276.5" width="12.5" height="5.2" fill="#c43500"/><rect x="420.9" y="276.5" width="6.2" height="5.2" fill="#c63700"/><rect x="427.1" y="276.5" width="43.8" height="5.2" fill="#c43500"/><rect x="470.9" y="276.5" width="53.1" height="5.2" fill="#c63700"/><rect x="75.0" y="281.7" width="58.4" height="5.2" fill="#c63700"/><rect x="133.4" y="281.7" width="6.2" height="5.2" fill="#c83c00"/><rect x="139.6" y="281.7" width="43.8" height="5.2" fill="#c63700"/><rect x="183.4" y="281.7" width="81.2" height="5.2" fill="#c43500"/><rect x="264.6" y="281.7" width="6.2" height="5.2" fill="#c63700"/><rect x="270.9" y="281.7" width="18.8" height="5.2" fill="#c83c00"/><rect x="289.6" y="281.7" width="18.8" height="5.2" fill="#c63700"/><rect x="308.4" y="281.7" width="18.8" height="5.2" fill="#c43500"/><rect x="327.1" y="281.7" width="18.8" height="5.2" fill="#c63700"/><rect x="345.9" y="281.7" width="31.2" height="5.2" fill="#c43500"/><rect x="377.1" y="281.7" width="18.8" height="5.2" fill="#c63700"/><rect x="395.9" y="281.7" width="6.2" height="5.2" fill="#c83c00"/><rect x="402.1" y="281.7" width="25.0" height="5.2" fill="#c63700"/><rect x="427.1" y="281.7" width="43.8" height="5.2" fill="#c43500"/><rect x="470.9" y="281.7" width="53.1" height="5.2" fill="#c63700"/><rect x="75.0" y="286.8" width="108.4" height="5.2" fill="#c63700"/><rect x="183.4" y="286.8" width="56.2" height="5.2" fill="#c43500"/><rect x="245.9" y="286.8" width="18.8" height="5.2" fill="#c43500"/><rect x="264.6" y="286.8" width="6.2" height="5.2" fill="#c63700"/><rect x="270.9" y="286.8" width="12.5" height="5.2" fill="#cb4100"/><rect x="283.4" y="286.8" width="6.2" height="5.2" fill="#c83c00"/><rect x="289.6" y="286.8" width="18.8" height="5.2" fill="#c63700"/><rect x="308.4" y="286.8" width="75.0" height="5.2" fill="#c43500"/><rect x="383.4" y="286.8" width="18.8" height="5.2" fill="#c63700"/><rect x="402.1" y="286.8" width="12.5" height="5.2" fill="#cb4100"/><rect x="414.6" y="286.8" width="6.2" height="5.2" fill="#c83c00"/><rect x="420.9" y="286.8" width="6.2" height="5.2" fill="#c63700"/><rect x="427.1" y="286.8" width="43.8" height="5.2" fill="#c43500"/><rect x="470.9" y="286.8" width="53.1" height="5.2" fill="#c63700"/><rect x="75.0" y="292.0" width="39.6" height="5.2" fill="#c63700"/><rect x="114.6" y="292.0" width="12.5" height="5.2" fill="#c83c00"/><rect x="127.1" y="292.0" width="56.2" height="5.2" fill="#c63700"/><rect x="183.4" y="292.0" width="81.2" height="5.2" fill="#c43500"/><rect x="264.6" y="292.0" width="6.2" height="5.2" fill="#c63700"/><rect x="270.9" y="292.0" width="6.2" height="5.2" fill="#cb4100"/><rect x="277.1" y="292.0" width="12.5" height="5.2" fill="#c83c00"/><rect x="289.6" y="292.0" width="18.8" height="5.2" fill="#c63700"/><rect x="308.4" y="292.0" width="75.0" height="5.2" fill="#c43500"/><rect x="383.4" y="292.0" width="18.8" height="5.2" fill="#c63700"/><rect x="402.1" y="292.0" width="6.2" height="5.2" fill="#c83c00"/><rect x="408.4" y="292.0" width="6.2" height="5.2" fill="#ce4600"/><rect x="414.6" y="292.0" width="6.2" height="5.2" fill="#c83c00"/><rect x="420.9" y="292.0" width="12.5" height="5.2" fill="#c63700"/><rect x="433.4" y="292.0" width="37.5" height="5.2" fill="#c43500"/><rect x="470.9" y="292.0" width="53.1" height="5.2" fill="#c63700"/><rect x="75.0" y="297.2" width="8.4" height="5.2" fill="#c63700"/><rect x="83.4" y="297.2" width="6.2" height="5.2" fill="#c83c00"/><rect x="89.6" y="297.2" width="93.8" height="5.2" fill="#c63700"/><rect x="183.4" y="297.2" width="81.2" height="5.2" fill="#c43500"/><rect x="264.6" y="297.2" width="6.2" height="5.2" fill="#c63700"/><rect x="270.9" y="297.2" width="18.8" height="5.2" fill="#c83c00"/><rect x="289.6" y="297.2" width="25.0" height="5.2" fill="#c63700"/><rect x="314.6" y="297.2" width="68.8" height="5.2" fill="#c43500"/><rect x="383.4" y="297.2" width="25.0" height="5.2" fill="#c63700"/><rect x="408.4" y="297.2" width="6.2" height="5.2" fill="#c83c00"/><rect x="414.6" y="297.2" width="18.8" height="5.2" fill="#c63700"/><rect x="433.4" y="297.2" width="37.5" height="5.2" fill="#c43500"/><rect x="470.9" y="297.2" width="53.1" height="5.2" fill="#c63700"/><rect x="75.0" y="302.3" width="14.6" height="5.2" fill="#c83c00"/><rect x="89.6" y="302.3" width="6.2" height="5.2" fill="#cb4100"/><rect x="95.9" y="302.3" width="25.0" height="5.2" fill="#c83c00"/><rect x="120.9" y="302.3" width="12.5" height="5.2" fill="#c63700"/><rect x="133.4" y="302.3" width="6.2" height="5.2" fill="#c83c00"/><rect x="139.6" y="302.3" width="12.5" height="5.2" fill="#c63700"/><rect x="152.1" y="302.3" width="12.5" height="5.2" fill="#c83c00"/><rect x="164.6" y="302.3" width="6.2" height="5.2" fill="#c63700"/><rect x="170.9" y="302.3" width="12.5" height="5.2" fill="#c83c00"/><rect x="183.4" y="302.3" width="12.5" height="5.2" fill="#c63700"/><rect x="195.9" y="302.3" width="62.5" height="5.2" fill="#c43500"/><rect x="258.4" y="302.3" width="12.5" height="5.2" fill="#c63700"/><rect x="270.9" y="302.3" width="12.5" height="5.2" fill="#ce4600"/><rect x="283.4" y="302.3" width="6.2" height="5.2" fill="#cb4100"/><rect x="289.6" y="302.3" width="25.0" height="5.2" fill="#c83c00"/><rect x="314.6" y="302.3" width="18.8" height="5.2" fill="#c63700"/><rect x="333.4" y="302.3" width="18.8" height="5.2" fill="#c83c00"/><rect x="352.1" y="302.3" width="6.2" height="5.2" fill="#c63700"/><rect x="358.4" y="302.3" width="6.2" height="5.2" fill="#c83c00"/><rect x="364.6" y="302.3" width="6.2" height="5.2" fill="#c63700"/><rect x="370.9" y="302.3" width="6.2" height="5.2" fill="#cb4100"/><rect x="377.1" y="302.3" width="50.0" height="5.2" fill="#c83c00"/><rect x="427.1" y="302.3" width="18.8" height="5.2" fill="#c63700"/><rect x="445.9" y="302.3" width="18.8" height="5.2" fill="#c83c00"/><rect x="464.6" y="302.3" width="6.2" height="5.2" fill="#c63700"/><rect x="470.9" y="302.3" width="50.0" height="5.2" fill="#c43500"/><rect x="520.9" y="302.3" width="3.1" height="5.2" fill="#c63700"/><rect x="75.0" y="307.5" width="8.4" height="5.2" fill="#c63700"/><rect x="83.4" y="307.5" width="6.2" height="5.2" fill="#cb4100"/><rect x="89.6" y="307.5" width="6.2" height="5.2" fill="#c83c00"/><rect x="95.9" y="307.5" width="6.2" height="5.2" fill="#d04c00"/><rect x="102.1" y="307.5" width="6.2" height="5.2" fill="#d55700"/><rect x="108.4" y="307.5" width="6.2" height="5.2" fill="#d04c00"/><rect x="114.6" y="307.5" width="6.2" height="5.2" fill="#cb4100"/><rect x="120.9" y="307.5" width="6.2" height="5.2" fill="#c83c00"/><rect x="127.1" y="307.5" width="6.2" height="5.2" fill="#cb4100"/><rect x="133.4" y="307.5" width="12.5" height="5.2" fill="#ce4600"/><rect x="145.9" y="307.5" width="6.2" height="5.2" fill="#cb4100"/><rect x="152.1" y="307.5" width="6.2" height="5.2" fill="#ce4600"/><rect x="158.4" y="307.5" width="6.2" height="5.2" fill="#c83c00"/><rect x="164.6" y="307.5" width="12.5" height="5.2" fill="#cb4100"/><rect x="177.1" y="307.5" width="6.2" height="5.2" fill="#c83c00"/><rect x="183.4" y="307.5" width="6.2" height="5.2" fill="#c63700"/><rect x="189.6" y="307.5" width="25.0" height="5.2" fill="#c43500"/><rect x="233.4" y="307.5" width="18.8" height="5.2" fill="#c43500"/><rect x="252.1" y="307.5" width="6.2" height="5.2" fill="#c63700"/><rect x="258.4" y="307.5" width="12.5" height="5.2" fill="#cb4100"/><rect x="270.9" y="307.5" width="6.2" height="5.2" fill="#d35100"/><rect x="277.1" y="307.5" width="6.2" height="5.2" fill="#d04c00"/><rect x="283.4" y="307.5" width="6.2" height="5.2" fill="#cb4100"/><rect x="289.6" y="307.5" width="6.2" height="5.2" fill="#c83c00"/><rect x="295.9" y="307.5" width="6.2" height="5.2" fill="#cb4100"/><rect x="302.1" y="307.5" width="18.8" height="5.2" fill="#c83c00"/><rect x="320.9" y="307.5" width="12.5" height="5.2" fill="#c63700"/><rect x="333.4" y="307.5" width="31.2" height="5.2" fill="#c83c00"/><rect x="364.6" y="307.5" width="6.2" height="5.2" fill="#c63700"/><rect x="370.9" y="307.5" width="6.2" height="5.2" fill="#ce4600"/><rect x="377.1" y="307.5" width="6.2" height="5.2" fill="#cb4100"/><rect x="383.4" y="307.5" width="6.2" height="5.2" fill="#c83c00"/><rect x="389.6" y="307.5" width="6.2" height="5.2" fill="#c63700"/><rect x="395.9" y="307.5" width="25.0" height="5.2" fill="#c83c00"/><rect x="420.9" y="307.5" width="12.5" height="5.2" fill="#c63700"/><rect x="433.4" y="307.5" width="12.5" height="5.2" fill="#c83c00"/><rect x="445.9" y="307.5" width="12.5" height="5.2" fill="#c63700"/><rect x="458.4" y="307.5" width="6.2" height="5.2" fill="#c83c00"/><rect x="464.6" y="307.5" width="6.2" height="5.2" fill="#c63700"/><rect x="470.9" y="307.5" width="50.0" height="5.2" fill="#c43500"/><rect x="520.9" y="307.5" width="3.1" height="5.2" fill="#c63700"/><rect x="75.0" y="312.7" width="2.1" height="5.2" fill="#c43500"/><rect x="77.1" y="312.7" width="6.2" height="5.2" fill="#c63700"/><rect x="83.4" y="312.7" width="6.2" height="5.2" fill="#c83c00"/><rect x="89.6" y="312.7" width="6.2" height="5.2" fill="#cb4100"/><rect x="95.9" y="312.7" width="6.2" height="5.2" fill="#d04c00"/><rect x="102.1" y="312.7" width="12.5" height="5.2" fill="#cb4100"/><rect x="114.6" y="312.7" width="6.2" height="5.2" fill="#d35100"/><rect x="120.9" y="312.7" width="6.2" height="5.2" fill="#d55700"/><rect x="127.1" y="312.7" width="6.2" height="5.2" fill="#d35100"/><rect x="133.4" y="312.7" width="12.5" height="5.2" fill="#d24e00"/><rect x="145.9" y="312.7" width="18.8" height="5.2" fill="#d35100"/><rect x="164.6" y="312.7" width="6.2" height="5.2" fill="#cb4100"/><rect x="170.9" y="312.7" width="6.2" height="5.2" fill="#d04c00"/><rect x="177.1" y="312.7" width="6.2" height="5.2" fill="#ce4600"/><rect x="183.4" y="312.7" width="6.2" height="5.2" fill="#c83c00"/><rect x="189.6" y="312.7" width="6.2" height="5.2" fill="#c63700"/><rect x="195.9" y="312.7" width="12.5" height="5.2" fill="#c43500"/><rect x="227.1" y="312.7" width="18.8" height="5.2" fill="#c43500"/><rect x="245.9" y="312.7" width="6.2" height="5.2" fill="#c63700"/><rect x="252.1" y="312.7" width="6.2" height="5.2" fill="#c83c00"/><rect x="258.4" y="312.7" width="12.5" height="5.2" fill="#d04c00"/><rect x="270.9" y="312.7" width="6.2" height="5.2" fill="#da6500"/><rect x="277.1" y="312.7" width="6.2" height="5.2" fill="#d35100"/><rect x="283.4" y="312.7" width="6.2" height="5.2" fill="#cb4100"/><rect x="289.6" y="312.7" width="6.2" height="5.2" fill="#c83c00"/><rect x="295.9" y="312.7" width="6.2" height="5.2" fill="#cb4100"/><rect x="302.1" y="312.7" width="31.2" height="5.2" fill="#c83c00"/><rect x="333.4" y="312.7" width="6.2" height="5.2" fill="#c43500"/><rect x="339.6" y="312.7" width="18.8" height="5.2" fill="#c83c00"/><rect x="358.4" y="312.7" width="6.2" height="5.2" fill="#c63700"/><rect x="364.6" y="312.7" width="6.2" height="5.2" fill="#c83c00"/><rect x="370.9" y="312.7" width="6.2" height="5.2" fill="#d04c00"/><rect x="377.1" y="312.7" width="6.2" height="5.2" fill="#cb4100"/><rect x="383.4" y="312.7" width="12.5" height="5.2" fill="#c63700"/><rect x="395.9" y="312.7" width="18.8" height="5.2" fill="#c83c00"/><rect x="414.6" y="312.7" width="12.5" height="5.2" fill="#cb4100"/><rect x="427.1" y="312.7" width="12.5" height="5.2" fill="#c83c00"/><rect x="439.6" y="312.7" width="12.5" height="5.2" fill="#c63700"/><rect x="452.1" y="312.7" width="18.8" height="5.2" fill="#c83c00"/><rect x="470.9" y="312.7" width="50.0" height="5.2" fill="#c43500"/><rect x="520.9" y="312.7" width="3.1" height="5.2" fill="#c63700"/><rect x="75.0" y="317.9" width="8.4" height="5.2" fill="#c43500"/><rect x="83.4" y="317.9" width="6.2" height="5.2" fill="#c63700"/><rect x="89.6" y="317.9" width="6.2" height="5.2" fill="#c83c00"/><rect x="95.9" y="317.9" width="6.2" height="5.2" fill="#cb4100"/><rect x="102.1" y="317.9" width="6.2" height="5.2" fill="#c83c00"/><rect x="108.4" y="317.9" width="6.2" height="5.2" fill="#ce4600"/><rect x="114.6" y="317.9" width="6.2" height="5.2" fill="#d24e00"/><rect x="120.9" y="317.9" width="6.2" height="5.2" fill="#da6500"/><rect x="127.1" y="317.9" width="31.2" height="5.2" fill="#d85e00"/><rect x="158.4" y="317.9" width="6.2" height="5.2" fill="#d55700"/><rect x="164.6" y="317.9" width="6.2" height="5.2" fill="#ce4600"/><rect x="170.9" y="317.9" width="6.2" height="5.2" fill="#d24e00"/><rect x="177.1" y="317.9" width="6.2" height="5.2" fill="#d04c00"/><rect x="183.4" y="317.9" width="6.2" height="5.2" fill="#c83c00"/><rect x="189.6" y="317.9" width="12.5" height="5.2" fill="#c63700"/><rect x="202.1" y="317.9" width="6.2" height="5.2" fill="#c43500"/><rect x="227.1" y="317.9" width="6.2" height="5.2" fill="#c43500"/><rect x="233.4" y="317.9" width="12.5" height="5.2" fill="#c63700"/><rect x="245.9" y="317.9" width="6.2" height="5.2" fill="#c83c00"/><rect x="252.1" y="317.9" width="6.2" height="5.2" fill="#cb4100"/><rect x="258.4" y="317.9" width="6.2" height="5.2" fill="#d04c00"/><rect x="264.6" y="317.9" width="6.2" height="5.2" fill="#d24e00"/><rect x="270.9" y="317.9" width="6.2" height="5.2" fill="#da6500"/><rect x="277.1" y="317.9" width="6.2" height="5.2" fill="#d35100"/><rect x="283.4" y="317.9" width="18.8" height="5.2" fill="#d04c00"/><rect x="302.1" y="317.9" width="6.2" height="5.2" fill="#d24e00"/><rect x="308.4" y="317.9" width="6.2" height="5.2" fill="#d04c00"/><rect x="314.6" y="317.9" width="6.2" height="5.2" fill="#cb4100"/><rect x="320.9" y="317.9" width="6.2" height="5.2" fill="#c83c00"/><rect x="327.1" y="317.9" width="12.5" height="5.2" fill="#c63700"/><rect x="339.6" y="317.9" width="6.2" height="5.2" fill="#c83c00"/><rect x="345.9" y="317.9" width="31.2" height="5.2" fill="#cb4100"/><rect x="377.1" y="317.9" width="6.2" height="5.2" fill="#c83c00"/><rect x="383.4" y="317.9" width="6.2" height="5.2" fill="#c63700"/><rect x="389.6" y="317.9" width="12.5" height="5.2" fill="#c83c00"/><rect x="402.1" y="317.9" width="12.5" height="5.2" fill="#cb4100"/><rect x="414.6" y="317.9" width="6.2" height="5.2" fill="#c83c00"/><rect x="420.9" y="317.9" width="12.5" height="5.2" fill="#cb4100"/><rect x="433.4" y="317.9" width="37.5" height="5.2" fill="#c83c00"/><rect x="470.9" y="317.9" width="50.0" height="5.2" fill="#c43500"/><rect x="520.9" y="317.9" width="3.1" height="5.2" fill="#c63700"/><rect x="83.4" y="323.0" width="6.2" height="5.2" fill="#c43500"/><rect x="89.6" y="323.0" width="12.5" height="5.2" fill="#c63700"/><rect x="102.1" y="323.0" width="6.2" height="5.2" fill="#c83c00"/><rect x="108.4" y="323.0" width="6.2" height="5.2" fill="#cb4100"/><rect x="114.6" y="323.0" width="6.2" height="5.2" fill="#ce4600"/><rect x="120.9" y="323.0" width="6.2" height="5.2" fill="#d04c00"/><rect x="127.1" y="323.0" width="12.5" height="5.2" fill="#dd6c00"/><rect x="139.6" y="323.0" width="6.2" height="5.2" fill="#da6500"/><rect x="145.9" y="323.0" width="12.5" height="5.2" fill="#dc6800"/><rect x="158.4" y="323.0" width="6.2" height="5.2" fill="#da6500"/><rect x="164.6" y="323.0" width="6.2" height="5.2" fill="#d35100"/><rect x="170.9" y="323.0" width="6.2" height="5.2" fill="#d85e00"/><rect x="177.1" y="323.0" width="6.2" height="5.2" fill="#d35100"/><rect x="183.4" y="323.0" width="6.2" height="5.2" fill="#cb4100"/><rect x="189.6" y="323.0" width="6.2" height="5.2" fill="#c83c00"/><rect x="195.9" y="323.0" width="6.2" height="5.2" fill="#c63700"/><rect x="202.1" y="323.0" width="18.8" height="5.2" fill="#c43500"/><rect x="220.9" y="323.0" width="18.8" height="5.2" fill="#c63700"/><rect x="239.6" y="323.0" width="6.2" height="5.2" fill="#c83c00"/><rect x="245.9" y="323.0" width="12.5" height="5.2" fill="#cb4100"/><rect x="258.4" y="323.0" width="12.5" height="5.2" fill="#d35100"/><rect x="270.9" y="323.0" width="6.2" height="5.2" fill="#da6500"/><rect x="277.1" y="323.0" width="6.2" height="5.2" fill="#d35100"/><rect x="283.4" y="323.0" width="12.5" height="5.2" fill="#d04c00"/><rect x="295.9" y="323.0" width="6.2" height="5.2" fill="#d24e00"/><rect x="302.1" y="323.0" width="6.2" height="5.2" fill="#d35100"/><rect x="308.4" y="323.0" width="6.2" height="5.2" fill="#d04c00"/><rect x="314.6" y="323.0" width="6.2" height="5.2" fill="#ce4600"/><rect x="320.9" y="323.0" width="6.2" height="5.2" fill="#cb4100"/><rect x="327.1" y="323.0" width="6.2" height="5.2" fill="#c83c00"/><rect x="333.4" y="323.0" width="6.2" height="5.2" fill="#c63700"/><rect x="339.6" y="323.0" width="6.2" height="5.2" fill="#c83c00"/><rect x="345.9" y="323.0" width="12.5" height="5.2" fill="#cb4100"/><rect x="358.4" y="323.0" width="6.2" height="5.2" fill="#ce4600"/><rect x="364.6" y="323.0" width="6.2" height="5.2" fill="#cb4100"/><rect x="370.9" y="323.0" width="12.5" height="5.2" fill="#c83c00"/><rect x="383.4" y="323.0" width="6.2" height="5.2" fill="#c63700"/><rect x="389.6" y="323.0" width="31.2" height="5.2" fill="#c83c00"/><rect x="420.9" y="323.0" width="6.2" height="5.2" fill="#ce4600"/><rect x="427.1" y="323.0" width="6.2" height="5.2" fill="#c83c00"/><rect x="433.4" y="323.0" width="6.2" height="5.2" fill="#cb4100"/><rect x="439.6" y="323.0" width="31.2" height="5.2" fill="#c83c00"/><rect x="470.9" y="323.0" width="50.0" height="5.2" fill="#c43500"/><rect x="520.9" y="323.0" width="3.1" height="5.2" fill="#c63700"/><rect x="89.6" y="328.2" width="6.2" height="5.2" fill="#c43500"/><rect x="95.9" y="328.2" width="6.2" height="5.2" fill="#c63700"/><rect x="102.1" y="328.2" width="12.5" height="5.2" fill="#c83c00"/><rect x="114.6" y="328.2" width="6.2" height="5.2" fill="#cb4100"/><rect x="120.9" y="328.2" width="6.2" height="5.2" fill="#ce4600"/><rect x="127.1" y="328.2" width="6.2" height="5.2" fill="#d55700"/><rect x="133.4" y="328.2" width="6.2" height="5.2" fill="#e37f00"/><rect x="139.6" y="328.2" width="25.0" height="5.2" fill="#df7300"/><rect x="164.6" y="328.2" width="12.5" height="5.2" fill="#d85e00"/><rect x="177.1" y="328.2" width="6.2" height="5.2" fill="#d55700"/><rect x="183.4" y="328.2" width="6.2" height="5.2" fill="#ce4600"/><rect x="189.6" y="328.2" width="12.5" height="5.2" fill="#c83c00"/><rect x="202.1" y="328.2" width="18.8" height="5.2" fill="#c63700"/><rect x="220.9" y="328.2" width="6.2" height="5.2" fill="#cb4100"/><rect x="227.1" y="328.2" width="12.5" height="5.2" fill="#c83c00"/><rect x="239.6" y="328.2" width="6.2" height="5.2" fill="#cb4100"/><rect x="245.9" y="328.2" width="6.2" height="5.2" fill="#d04c00"/><rect x="252.1" y="328.2" width="6.2" height="5.2" fill="#d24e00"/><rect x="258.4" y="328.2" width="6.2" height="5.2" fill="#d04c00"/><rect x="264.6" y="328.2" width="6.2" height="5.2" fill="#ce4600"/><rect x="270.9" y="328.2" width="6.2" height="5.2" fill="#da6500"/><rect x="277.1" y="328.2" width="6.2" height="5.2" fill="#d35100"/><rect x="283.4" y="328.2" width="6.2" height="5.2" fill="#d04c00"/><rect x="289.6" y="328.2" width="12.5" height="5.2" fill="#d85e00"/><rect x="302.1" y="328.2" width="12.5" height="5.2" fill="#da6500"/><rect x="314.6" y="328.2" width="6.2" height="5.2" fill="#d55700"/><rect x="320.9" y="328.2" width="6.2" height="5.2" fill="#d04c00"/><rect x="327.1" y="328.2" width="6.2" height="5.2" fill="#ce4600"/><rect x="333.4" y="328.2" width="25.0" height="5.2" fill="#cb4100"/><rect x="358.4" y="328.2" width="6.2" height="5.2" fill="#ce4600"/><rect x="364.6" y="328.2" width="6.2" height="5.2" fill="#cb4100"/><rect x="370.9" y="328.2" width="50.0" height="5.2" fill="#c83c00"/><rect x="420.9" y="328.2" width="6.2" height="5.2" fill="#ce4600"/><rect x="427.1" y="328.2" width="6.2" height="5.2" fill="#c83c00"/><rect x="433.4" y="328.2" width="6.2" height="5.2" fill="#ce4600"/><rect x="439.6" y="328.2" width="31.2" height="5.2" fill="#c83c00"/><rect x="470.9" y="328.2" width="50.0" height="5.2" fill="#c43500"/><rect x="520.9" y="328.2" width="3.1" height="5.2" fill="#c63700"/><rect x="102.1" y="333.4" width="6.2" height="5.2" fill="#c43500"/><rect x="108.4" y="333.4" width="6.2" height="5.2" fill="#c63700"/><rect x="114.6" y="333.4" width="6.2" height="5.2" fill="#c83c00"/><rect x="120.9" y="333.4" width="6.2" height="5.2" fill="#d04c00"/><rect x="127.1" y="333.4" width="6.2" height="5.2" fill="#d85e00"/><rect x="133.4" y="333.4" width="6.2" height="5.2" fill="#dc6800"/><rect x="139.6" y="333.4" width="18.8" height="5.2" fill="#dd6c00"/><rect x="158.4" y="333.4" width="6.2" height="5.2" fill="#df7300"/><rect x="164.6" y="333.4" width="12.5" height="5.2" fill="#da6500"/><rect x="177.1" y="333.4" width="6.2" height="5.2" fill="#d85e00"/><rect x="183.4" y="333.4" width="6.2" height="5.2" fill="#d04c00"/><rect x="189.6" y="333.4" width="6.2" height="5.2" fill="#cb4100"/><rect x="195.9" y="333.4" width="12.5" height="5.2" fill="#c83c00"/><rect x="208.4" y="333.4" width="12.5" height="5.2" fill="#c63700"/><rect x="220.9" y="333.4" width="6.2" height="5.2" fill="#c83c00"/><rect x="227.1" y="333.4" width="6.2" height="5.2" fill="#cb4100"/><rect x="233.4" y="333.4" width="12.5" height="5.2" fill="#c83c00"/><rect x="245.9" y="333.4" width="6.2" height="5.2" fill="#cb4100"/><rect x="252.1" y="333.4" width="6.2" height="5.2" fill="#ce4600"/><rect x="258.4" y="333.4" width="6.2" height="5.2" fill="#d85e00"/><rect x="264.6" y="333.4" width="6.2" height="5.2" fill="#d55700"/><rect x="270.9" y="333.4" width="6.2" height="5.2" fill="#dd6c00"/><rect x="277.1" y="333.4" width="6.2" height="5.2" fill="#da6500"/><rect x="283.4" y="333.4" width="12.5" height="5.2" fill="#d35100"/><rect x="295.9" y="333.4" width="6.2" height="5.2" fill="#d96100"/><rect x="302.1" y="333.4" width="18.8" height="5.2" fill="#d85e00"/><rect x="320.9" y="333.4" width="6.2" height="5.2" fill="#d24e00"/><rect x="327.1" y="333.4" width="6.2" height="5.2" fill="#d04c00"/><rect x="333.4" y="333.4" width="6.2" height="5.2" fill="#ce4600"/><rect x="339.6" y="333.4" width="12.5" height="5.2" fill="#cb4100"/><rect x="352.1" y="333.4" width="37.5" height="5.2" fill="#c83c00"/><rect x="389.6" y="333.4" width="25.0" height="5.2" fill="#c63700"/><rect x="414.6" y="333.4" width="6.2" height="5.2" fill="#c83c00"/><rect x="420.9" y="333.4" width="6.2" height="5.2" fill="#ce4600"/><rect x="427.1" y="333.4" width="25.0" height="5.2" fill="#c83c00"/><rect x="452.1" y="333.4" width="6.2" height="5.2" fill="#c63700"/><rect x="458.4" y="333.4" width="12.5" height="5.2" fill="#c83c00"/><rect x="470.9" y="333.4" width="50.0" height="5.2" fill="#c43500"/><rect x="520.9" y="333.4" width="3.1" height="5.2" fill="#c63700"/><rect x="75.0" y="338.5" width="8.4" height="5.2" fill="#c43500"/><rect x="108.4" y="338.5" width="6.2" height="5.2" fill="#c43500"/><rect x="114.6" y="338.5" width="6.2" height="5.2" fill="#c63700"/><rect x="120.9" y="338.5" width="6.2" height="5.2" fill="#cb4100"/><rect x="127.1" y="338.5" width="6.2" height="5.2" fill="#da6500"/><rect x="133.4" y="338.5" width="6.2" height="5.2" fill="#e99400"/><rect x="139.6" y="338.5" width="6.2" height="5.2" fill="#df7300"/><rect x="145.9" y="338.5" width="6.2" height="5.2" fill="#e99400"/><rect x="152.1" y="338.5" width="6.2" height="5.2" fill="#dd6c00"/><rect x="158.4" y="338.5" width="6.2" height="5.2" fill="#df7300"/><rect x="164.6" y="338.5" width="6.2" height="5.2" fill="#e37f00"/><rect x="170.9" y="338.5" width="6.2" height="5.2" fill="#dd6c00"/><rect x="177.1" y="338.5" width="6.2" height="5.2" fill="#d85e00"/><rect x="183.4" y="338.5" width="6.2" height="5.2" fill="#d04c00"/><rect x="189.6" y="338.5" width="6.2" height="5.2" fill="#cb4100"/><rect x="195.9" y="338.5" width="6.2" height="5.2" fill="#c83c00"/><rect x="202.1" y="338.5" width="12.5" height="5.2" fill="#c63700"/><rect x="214.6" y="338.5" width="6.2" height="5.2" fill="#c43500"/><rect x="220.9" y="338.5" width="12.5" height="5.2" fill="#c63700"/><rect x="233.4" y="338.5" width="18.8" height="5.2" fill="#c83c00"/><rect x="252.1" y="338.5" width="6.2" height="5.2" fill="#ce4600"/><rect x="258.4" y="338.5" width="6.2" height="5.2" fill="#d55700"/><rect x="264.6" y="338.5" width="6.2" height="5.2" fill="#d35100"/><rect x="270.9" y="338.5" width="6.2" height="5.2" fill="#d55700"/><rect x="277.1" y="338.5" width="6.2" height="5.2" fill="#d35100"/><rect x="283.4" y="338.5" width="6.2" height="5.2" fill="#d04c00"/><rect x="289.6" y="338.5" width="6.2" height="5.2" fill="#d55700"/><rect x="295.9" y="338.5" width="6.2" height="5.2" fill="#d85e00"/><rect x="302.1" y="338.5" width="6.2" height="5.2" fill="#dc6800"/><rect x="308.4" y="338.5" width="12.5" height="5.2" fill="#d85e00"/><rect x="320.9" y="338.5" width="6.2" height="5.2" fill="#d24e00"/><rect x="327.1" y="338.5" width="6.2" height="5.2" fill="#ce4600"/><rect x="333.4" y="338.5" width="12.5" height="5.2" fill="#cb4100"/><rect x="345.9" y="338.5" width="6.2" height="5.2" fill="#ce4600"/><rect x="352.1" y="338.5" width="12.5" height="5.2" fill="#cb4100"/><rect x="364.6" y="338.5" width="37.5" height="5.2" fill="#c63700"/><rect x="402.1" y="338.5" width="12.5" height="5.2" fill="#c83c00"/><rect x="414.6" y="338.5" width="6.2" height="5.2" fill="#c63700"/><rect x="420.9" y="338.5" width="31.2" height="5.2" fill="#c83c00"/><rect x="452.1" y="338.5" width="6.2" height="5.2" fill="#c63700"/><rect x="458.4" y="338.5" width="12.5" height="5.2" fill="#c83c00"/><rect x="470.9" y="338.5" width="50.0" height="5.2" fill="#c43500"/><rect x="520.9" y="338.5" width="3.1" height="5.2" fill="#c63700"/><rect x="75.0" y="343.7" width="8.4" height="5.2" fill="#c63700"/><rect x="83.4" y="343.7" width="12.5" height="5.2" fill="#c43500"/><rect x="95.9" y="343.7" width="6.2" height="5.2" fill="#c63700"/><rect x="102.1" y="343.7" width="6.2" height="5.2" fill="#c83c00"/><rect x="108.4" y="343.7" width="6.2" height="5.2" fill="#cb4100"/><rect x="114.6" y="343.7" width="6.2" height="5.2" fill="#ce4600"/><rect x="120.9" y="343.7" width="6.2" height="5.2" fill="#d04c00"/><rect x="127.1" y="343.7" width="6.2" height="5.2" fill="#df7300"/><rect x="133.4" y="343.7" width="18.8" height="5.2" fill="#e27b00"/><rect x="152.1" y="343.7" width="6.2" height="5.2" fill="#df7300"/><rect x="158.4" y="343.7" width="6.2" height="5.2" fill="#dd6c00"/><rect x="164.6" y="343.7" width="6.2" height="5.2" fill="#dc6800"/><rect x="170.9" y="343.7" width="6.2" height="5.2" fill="#d55700"/><rect x="177.1" y="343.7" width="6.2" height="5.2" fill="#d35100"/><rect x="183.4" y="343.7" width="6.2" height="5.2" fill="#cb4100"/><rect x="189.6" y="343.7" width="6.2" height="5.2" fill="#c83c00"/><rect x="195.9" y="343.7" width="12.5" height="5.2" fill="#c63700"/><rect x="208.4" y="343.7" width="18.8" height="5.2" fill="#c43500"/><rect x="227.1" y="343.7" width="25.0" height="5.2" fill="#c63700"/><rect x="252.1" y="343.7" width="6.2" height="5.2" fill="#cb4100"/><rect x="258.4" y="343.7" width="12.5" height="5.2" fill="#d04c00"/><rect x="270.9" y="343.7" width="12.5" height="5.2" fill="#cb4100"/><rect x="283.4" y="343.7" width="6.2" height="5.2" fill="#ce4600"/><rect x="289.6" y="343.7" width="6.2" height="5.2" fill="#d55700"/><rect x="295.9" y="343.7" width="12.5" height="5.2" fill="#da6500"/><rect x="308.4" y="343.7" width="6.2" height="5.2" fill="#d85e00"/><rect x="314.6" y="343.7" width="6.2" height="5.2" fill="#d55700"/><rect x="320.9" y="343.7" width="6.2" height="5.2" fill="#d24e00"/><rect x="327.1" y="343.7" width="18.8" height="5.2" fill="#cb4100"/><rect x="345.9" y="343.7" width="6.2" height="5.2" fill="#ce4600"/><rect x="352.1" y="343.7" width="6.2" height="5.2" fill="#d04c00"/><rect x="358.4" y="343.7" width="6.2" height="5.2" fill="#cb4100"/><rect x="364.6" y="343.7" width="6.2" height="5.2" fill="#c83c00"/><rect x="370.9" y="343.7" width="6.2" height="5.2" fill="#c63700"/><rect x="377.1" y="343.7" width="18.8" height="5.2" fill="#c83c00"/><rect x="395.9" y="343.7" width="25.0" height="5.2" fill="#c63700"/><rect x="420.9" y="343.7" width="25.0" height="5.2" fill="#c83c00"/><rect x="445.9" y="343.7" width="6.2" height="5.2" fill="#c63700"/><rect x="452.1" y="343.7" width="12.5" height="5.2" fill="#c83c00"/><rect x="464.6" y="343.7" width="6.2" height="5.2" fill="#cb4100"/><rect x="470.9" y="343.7" width="50.0" height="5.2" fill="#c43500"/><rect x="520.9" y="343.7" width="3.1" height="5.2" fill="#c63700"/><rect x="75.0" y="348.9" width="2.1" height="5.2" fill="#c83c00"/><rect x="77.1" y="348.9" width="18.8" height="5.2" fill="#c63700"/><rect x="95.9" y="348.9" width="6.2" height="5.2" fill="#c83c00"/><rect x="102.1" y="348.9" width="6.2" height="5.2" fill="#d04c00"/><rect x="108.4" y="348.9" width="6.2" height="5.2" fill="#ce4600"/><rect x="114.6" y="348.9" width="6.2" height="5.2" fill="#d04c00"/><rect x="120.9" y="348.9" width="6.2" height="5.2" fill="#d55700"/><rect x="127.1" y="348.9" width="6.2" height="5.2" fill="#da6500"/><rect x="133.4" y="348.9" width="6.2" height="5.2" fill="#dd6c00"/><rect x="139.6" y="348.9" width="6.2" height="5.2" fill="#de6f00"/><rect x="145.9" y="348.9" width="6.2" height="5.2" fill="#dd6c00"/><rect x="152.1" y="348.9" width="6.2" height="5.2" fill="#dc6800"/><rect x="158.4" y="348.9" width="6.2" height="5.2" fill="#da6500"/><rect x="164.6" y="348.9" width="6.2" height="5.2" fill="#d55700"/><rect x="170.9" y="348.9" width="6.2" height="5.2" fill="#ce4600"/><rect x="177.1" y="348.9" width="6.2" height="5.2" fill="#cb4100"/><rect x="183.4" y="348.9" width="6.2" height="5.2" fill="#c83c00"/><rect x="189.6" y="348.9" width="12.5" height="5.2" fill="#c63700"/><rect x="202.1" y="348.9" width="18.8" height="5.2" fill="#c43500"/><rect x="220.9" y="348.9" width="31.2" height="5.2" fill="#c63700"/><rect x="252.1" y="348.9" width="6.2" height="5.2" fill="#c83c00"/><rect x="258.4" y="348.9" width="12.5" height="5.2" fill="#ce4600"/><rect x="270.9" y="348.9" width="6.2" height="5.2" fill="#c63700"/><rect x="277.1" y="348.9" width="6.2" height="5.2" fill="#c83c00"/><rect x="283.4" y="348.9" width="6.2" height="5.2" fill="#ce4600"/><rect x="289.6" y="348.9" width="6.2" height="5.2" fill="#d55700"/><rect x="295.9" y="348.9" width="6.2" height="5.2" fill="#d35100"/><rect x="302.1" y="348.9" width="6.2" height="5.2" fill="#d04c00"/><rect x="308.4" y="348.9" width="6.2" height="5.2" fill="#d24e00"/><rect x="314.6" y="348.9" width="6.2" height="5.2" fill="#d04c00"/><rect x="320.9" y="348.9" width="12.5" height="5.2" fill="#cb4100"/><rect x="333.4" y="348.9" width="12.5" height="5.2" fill="#c83c00"/><rect x="345.9" y="348.9" width="12.5" height="5.2" fill="#cb4100"/><rect x="358.4" y="348.9" width="6.2" height="5.2" fill="#c83c00"/><rect x="364.6" y="348.9" width="6.2" height="5.2" fill="#cb4100"/><rect x="370.9" y="348.9" width="12.5" height="5.2" fill="#c63700"/><rect x="383.4" y="348.9" width="6.2" height="5.2" fill="#c83c00"/><rect x="389.6" y="348.9" width="25.0" height="5.2" fill="#c63700"/><rect x="414.6" y="348.9" width="18.8" height="5.2" fill="#c83c00"/><rect x="433.4" y="348.9" width="6.2" height="5.2" fill="#d35100"/><rect x="439.6" y="348.9" width="6.2" height="5.2" fill="#cb4100"/><rect x="445.9" y="348.9" width="12.5" height="5.2" fill="#c83c00"/><rect x="458.4" y="348.9" width="12.5" height="5.2" fill="#cb4100"/><rect x="470.9" y="348.9" width="50.0" height="5.2" fill="#c43500"/><rect x="520.9" y="348.9" width="3.1" height="5.2" fill="#c63700"/><rect x="75.0" y="354.1" width="20.9" height="5.2" fill="#c83c00"/><rect x="95.9" y="354.1" width="12.5" height="5.2" fill="#cb4100"/><rect x="108.4" y="354.1" width="12.5" height="5.2" fill="#d04c00"/><rect x="120.9" y="354.1" width="6.2" height="5.2" fill="#d55700"/><rect x="127.1" y="354.1" width="18.8" height="5.2" fill="#d85e00"/><rect x="145.9" y="354.1" width="6.2" height="5.2" fill="#da6500"/><rect x="152.1" y="354.1" width="6.2" height="5.2" fill="#d85e00"/><rect x="158.4" y="354.1" width="6.2" height="5.2" fill="#d35100"/><rect x="164.6" y="354.1" width="6.2" height="5.2" fill="#d04c00"/><rect x="170.9" y="354.1" width="6.2" height="5.2" fill="#cb4100"/><rect x="177.1" y="354.1" width="6.2" height="5.2" fill="#c83c00"/><rect x="183.4" y="354.1" width="12.5" height="5.2" fill="#c63700"/><rect x="195.9" y="354.1" width="25.0" height="5.2" fill="#c43500"/><rect x="220.9" y="354.1" width="37.5" height="5.2" fill="#c63700"/><rect x="258.4" y="354.1" width="12.5" height="5.2" fill="#c83c00"/><rect x="270.9" y="354.1" width="6.2" height="5.2" fill="#c63700"/><rect x="277.1" y="354.1" width="6.2" height="5.2" fill="#c83c00"/><rect x="283.4" y="354.1" width="6.2" height="5.2" fill="#cb4100"/><rect x="289.6" y="354.1" width="6.2" height="5.2" fill="#ce4600"/><rect x="295.9" y="354.1" width="6.2" height="5.2" fill="#d04c00"/><rect x="302.1" y="354.1" width="18.8" height="5.2" fill="#cb4100"/><rect x="320.9" y="354.1" width="6.2" height="5.2" fill="#c83c00"/><rect x="327.1" y="354.1" width="12.5" height="5.2" fill="#c63700"/><rect x="339.6" y="354.1" width="18.8" height="5.2" fill="#c83c00"/><rect x="358.4" y="354.1" width="6.2" height="5.2" fill="#c63700"/><rect x="364.6" y="354.1" width="6.2" height="5.2" fill="#c83c00"/><rect x="370.9" y="354.1" width="50.0" height="5.2" fill="#c63700"/><rect x="420.9" y="354.1" width="6.2" height="5.2" fill="#c83c00"/><rect x="427.1" y="354.1" width="6.2" height="5.2" fill="#cb4100"/><rect x="433.4" y="354.1" width="12.5" height="5.2" fill="#ce4600"/><rect x="445.9" y="354.1" width="12.5" height="5.2" fill="#c83c00"/><rect x="458.4" y="354.1" width="12.5" height="5.2" fill="#cb4100"/><rect x="470.9" y="354.1" width="50.0" height="5.2" fill="#c43500"/><rect x="520.9" y="354.1" width="3.1" height="5.2" fill="#c63700"/><rect x="75.0" y="359.2" width="8.4" height="5.2" fill="#c83c00"/><rect x="83.4" y="359.2" width="6.2" height="5.2" fill="#c63700"/><rect x="89.6" y="359.2" width="12.5" height="5.2" fill="#c83c00"/><rect x="102.1" y="359.2" width="12.5" height="5.2" fill="#cb4100"/><rect x="114.6" y="359.2" width="6.2" height="5.2" fill="#ce4600"/><rect x="120.9" y="359.2" width="12.5" height="5.2" fill="#d04c00"/><rect x="133.4" y="359.2" width="18.8" height="5.2" fill="#d35100"/><rect x="152.1" y="359.2" width="12.5" height="5.2" fill="#d04c00"/><rect x="164.6" y="359.2" width="6.2" height="5.2" fill="#c63700"/><rect x="170.9" y="359.2" width="6.2" height="5.2" fill="#c83c00"/><rect x="177.1" y="359.2" width="31.2" height="5.2" fill="#c63700"/><rect x="208.4" y="359.2" width="12.5" height="5.2" fill="#c43500"/><rect x="220.9" y="359.2" width="50.0" height="5.2" fill="#c63700"/><rect x="270.9" y="359.2" width="12.5" height="5.2" fill="#c83c00"/><rect x="283.4" y="359.2" width="6.2" height="5.2" fill="#d35100"/><rect x="289.6" y="359.2" width="6.2" height="5.2" fill="#cb4100"/><rect x="295.9" y="359.2" width="18.8" height="5.2" fill="#c83c00"/><rect x="314.6" y="359.2" width="37.5" height="5.2" fill="#c63700"/><rect x="352.1" y="359.2" width="18.8" height="5.2" fill="#c83c00"/><rect x="370.9" y="359.2" width="6.2" height="5.2" fill="#c63700"/><rect x="377.1" y="359.2" width="25.0" height="5.2" fill="#c83c00"/><rect x="402.1" y="359.2" width="18.8" height="5.2" fill="#c63700"/><rect x="420.9" y="359.2" width="50.0" height="5.2" fill="#c83c00"/><rect x="470.9" y="359.2" width="50.0" height="5.2" fill="#c43500"/><rect x="520.9" y="359.2" width="3.1" height="5.2" fill="#c63700"/><rect x="75.0" y="364.4" width="2.1" height="5.2" fill="#c63700"/><rect x="77.1" y="364.4" width="12.5" height="5.2" fill="#c83c00"/><rect x="89.6" y="364.4" width="25.0" height="5.2" fill="#cb4100"/><rect x="114.6" y="364.4" width="12.5" height="5.2" fill="#c83c00"/><rect x="127.1" y="364.4" width="12.5" height="5.2" fill="#cb4100"/><rect x="139.6" y="364.4" width="25.0" height="5.2" fill="#c83c00"/><rect x="164.6" y="364.4" width="18.8" height="5.2" fill="#c63700"/><rect x="183.4" y="364.4" width="6.2" height="5.2" fill="#c83c00"/><rect x="189.6" y="364.4" width="43.8" height="5.2" fill="#c63700"/><rect x="233.4" y="364.4" width="31.2" height="5.2" fill="#c83c00"/><rect x="264.6" y="364.4" width="6.2" height="5.2" fill="#cb4100"/><rect x="270.9" y="364.4" width="6.2" height="5.2" fill="#ce4600"/><rect x="277.1" y="364.4" width="6.2" height="5.2" fill="#d04c00"/><rect x="283.4" y="364.4" width="6.2" height="5.2" fill="#d35100"/><rect x="289.6" y="364.4" width="6.2" height="5.2" fill="#cb4100"/><rect x="295.9" y="364.4" width="62.5" height="5.2" fill="#c83c00"/><rect x="358.4" y="364.4" width="125.0" height="5.2" fill="#c63700"/><rect x="483.4" y="364.4" width="40.6" height="5.2" fill="#c83c00"/><rect x="75.0" y="369.6" width="8.4" height="5.2" fill="#c63700"/><rect x="83.4" y="369.6" width="62.5" height="5.2" fill="#c83c00"/><rect x="145.9" y="369.6" width="37.5" height="5.2" fill="#c63700"/><rect x="183.4" y="369.6" width="6.2" height="5.2" fill="#c83c00"/><rect x="189.6" y="369.6" width="43.8" height="5.2" fill="#c63700"/><rect x="233.4" y="369.6" width="37.5" height="5.2" fill="#c83c00"/><rect x="270.9" y="369.6" width="6.2" height="5.2" fill="#cb4100"/><rect x="277.1" y="369.6" width="12.5" height="5.2" fill="#ce4600"/><rect x="289.6" y="369.6" width="6.2" height="5.2" fill="#cb4100"/><rect x="295.9" y="369.6" width="56.2" height="5.2" fill="#c83c00"/><rect x="352.1" y="369.6" width="131.2" height="5.2" fill="#c63700"/><rect x="483.4" y="369.6" width="40.6" height="5.2" fill="#c83c00"/><rect x="75.0" y="374.7" width="8.4" height="5.2" fill="#c63700"/><rect x="83.4" y="374.7" width="18.8" height="5.2" fill="#c83c00"/><rect x="102.1" y="374.7" width="6.2" height="5.2" fill="#cb4100"/><rect x="108.4" y="374.7" width="6.2" height="5.2" fill="#c83c00"/><rect x="114.6" y="374.7" width="62.5" height="5.2" fill="#c63700"/><rect x="177.1" y="374.7" width="12.5" height="5.2" fill="#c83c00"/><rect x="189.6" y="374.7" width="50.0" height="5.2" fill="#c63700"/><rect x="239.6" y="374.7" width="37.5" height="5.2" fill="#c83c00"/><rect x="277.1" y="374.7" width="12.5" height="5.2" fill="#cb4100"/><rect x="289.6" y="374.7" width="18.8" height="5.2" fill="#c83c00"/><rect x="308.4" y="374.7" width="215.6" height="5.2" fill="#c63700"/><rect x="75.0" y="379.9" width="14.6" height="5.2" fill="#c63700"/><rect x="89.6" y="379.9" width="12.5" height="5.2" fill="#c83c00"/><rect x="102.1" y="379.9" width="6.2" height="5.2" fill="#ce4600"/><rect x="108.4" y="379.9" width="6.2" height="5.2" fill="#c83c00"/><rect x="114.6" y="379.9" width="143.8" height="5.2" fill="#c63700"/><rect x="258.4" y="379.9" width="37.5" height="5.2" fill="#c83c00"/><rect x="295.9" y="379.9" width="228.1" height="5.2" fill="#c63700"/><rect x="75.0" y="385.1" width="20.9" height="5.2" fill="#c63700"/><rect x="95.9" y="385.1" width="12.5" height="5.2" fill="#c83c00"/><rect x="108.4" y="385.1" width="150.0" height="5.2" fill="#c63700"/><rect x="258.4" y="385.1" width="37.5" height="5.2" fill="#c83c00"/><rect x="295.9" y="385.1" width="228.1" height="5.2" fill="#c63700"/><rect x="75.0" y="390.3" width="183.4" height="5.2" fill="#c63700"/><rect x="258.4" y="390.3" width="37.5" height="5.2" fill="#c83c00"/><rect x="295.9" y="390.3" width="87.5" height="5.2" fill="#c63700"/><rect x="383.4" y="390.3" width="18.8" height="5.2" fill="#c83c00"/><rect x="402.1" y="390.3" width="12.5" height="5.2" fill="#c63700"/><rect x="414.6" y="390.3" width="6.2" height="5.2" fill="#cb4100"/><rect x="420.9" y="390.3" width="103.1" height="5.2" fill="#c63700"/><rect x="75.0" y="395.4" width="183.4" height="5.2" fill="#c63700"/><rect x="258.4" y="395.4" width="37.5" height="5.2" fill="#c83c00"/><rect x="295.9" y="395.4" width="81.2" height="5.2" fill="#c63700"/><rect x="377.1" y="395.4" width="31.2" height="5.2" fill="#c83c00"/><rect x="408.4" y="395.4" width="6.2" height="5.2" fill="#c63700"/><rect x="414.6" y="395.4" width="6.2" height="5.2" fill="#ce4600"/><rect x="420.9" y="395.4" width="103.1" height="5.2" fill="#c63700"/><rect x="75.0" y="400.6" width="220.9" height="5.2" fill="#c63700"/><rect x="295.9" y="400.6" width="12.5" height="5.2" fill="#c83c00"/><rect x="308.4" y="400.6" width="6.2" height="5.2" fill="#ce4600"/><rect x="314.6" y="400.6" width="62.5" height="5.2" fill="#c63700"/><rect x="377.1" y="400.6" width="37.5" height="5.2" fill="#c83c00"/><rect x="414.6" y="400.6" width="6.2" height="5.2" fill="#d04c00"/><rect x="420.9" y="400.6" width="6.2" height="5.2" fill="#c83c00"/><rect x="427.1" y="400.6" width="96.9" height="5.2" fill="#c63700"/><rect x="75.0" y="405.8" width="333.4" height="5.2" fill="#c63700"/><rect x="408.4" y="405.8" width="6.2" height="5.2" fill="#cb4100"/><rect x="414.6" y="405.8" width="6.2" height="5.2" fill="#d04c00"/><rect x="420.9" y="405.8" width="6.2" height="5.2" fill="#cb4100"/><rect x="427.1" y="405.8" width="96.9" height="5.2" fill="#c63700"/><rect x="75.0" y="410.9" width="83.4" height="5.2" fill="#c63700"/><rect x="158.4" y="410.9" width="25.0" height="5.2" fill="#c83c00"/><rect x="183.4" y="410.9" width="225.0" height="5.2" fill="#c63700"/><rect x="408.4" y="410.9" width="6.2" height="5.2" fill="#c83c00"/><rect x="414.6" y="410.9" width="6.2" height="5.2" fill="#ce4600"/><rect x="420.9" y="410.9" width="6.2" height="5.2" fill="#c83c00"/><rect x="427.1" y="410.9" width="96.9" height="5.2" fill="#c63700"/><rect x="75.0" y="416.1" width="83.4" height="2.9" fill="#c63700"/><rect x="158.4" y="416.1" width="25.0" height="2.9" fill="#c83c00"/><rect x="183.4" y="416.1" width="231.2" height="2.9" fill="#c63700"/><rect x="414.6" y="416.1" width="6.2" height="2.9" fill="#cb4100"/><rect x="420.9" y="416.1" width="103.1" height="2.9" fill="#c63700"/><rect x="239" y="286" width="7" height="6" fill="#000"/></g><path d="M77.2,97.4 81.6,99.6 86.2,101.7 83.4,104.9 78.8,103.9 75.0,104.1M144.4,148.0 145.3,140.5 146.8,137.7 142.5,134.9 139.7,129.2 135.9,122.7 131.2,117.6 125.6,114.6 120.0,114.2 113.4,113.7 109.7,116.1 105.0,119.9 98.4,124.6 103.1,118.0 99.4,116.1 95.6,112.4 96.6,107.7 99.4,105.8 92.8,103.0 97.5,101.5 92.8,98.3 99.4,95.5 104.1,92.7 112.5,93.2 121.9,94.6 129.4,96.4 136.9,94.6 140.6,93.6 146.2,95.5 153.8,95.5 159.4,96.4 166.9,98.3M77.8,132.4 82.5,131.5M86.2,130.2 89.1,128.9 91.9,127.4M212.8,77.7 219.4,71.1 226.9,69.2 241.9,68.3 251.2,66.4 259.7,66.4 269.1,67.4 267.2,72.1 275.6,71.1 283.1,71.5 277.5,73.0 275.6,75.8 276.6,78.6 273.8,80.5 271.9,84.2 267.2,88.0 271.9,90.8 266.2,92.7 269.1,95.5 258.8,97.4 253.1,102.1 245.6,106.8 244.7,115.2 239.1,113.3 236.2,107.7 233.4,102.1 234.4,93.6 230.6,89.9 227.8,85.2 223.1,82.4 215.6,81.4 211.9,78.6 212.8,77.7M270.0,103.0 275.6,102.1 279.4,101.1 280.3,104.9 276.6,107.1 271.9,105.8 270.0,103.0M315.0,106.8 309.4,112.4 307.5,116.1 311.2,119.9 315.0,118.9M315.0,123.6 307.5,129.2 301.9,133.0 297.2,136.8 296.2,144.2 297.2,148.0M144.4,148.0 145.3,155.5 149.1,163.0 153.8,170.5 155.6,178.0 163.1,187.4 167.8,193.9 170.6,198.6 173.4,202.4 182.8,206.1 191.2,212.7 195.9,219.2 202.5,221.1 203.4,226.8 202.5,232.4 201.6,238.0M157.5,176.1 159.4,177.1 163.1,185.5 162.2,188.3 158.4,180.8 157.5,176.1M211.9,148.0 208.1,155.5 204.4,161.1 200.6,168.6 199.7,182.7 191.2,176.5 180.0,178.9 178.1,184.6 178.1,195.8 185.6,198.6 190.3,195.8 189.4,204.2 191.2,208.0 195.0,211.8 196.9,220.2M194.6,193.9 200.6,194.9 208.1,197.7 204.4,195.2 198.8,193.4 194.6,193.9M207.2,201.4 212.8,200.5M195.0,211.2 196.9,218.8 203.4,221.6 202.5,228.1 199.7,245.0 203.4,263.8 210.9,275.9 210.9,290.0M203.4,221.6 205.3,217.8 210.9,214.6 215.6,217.8 223.1,219.7 229.7,224.4 234.4,233.8 238.1,240.3 243.8,244.1 247.5,245.0 255.9,254.4 253.1,261.9 251.2,271.2 249.4,280.6 245.6,287.2 240.0,290.0M279.4,200.0 281.2,215.0 285.9,224.4 294.4,229.1 301.9,227.8 307.5,230.0 311.2,236.6 314.1,248.8 315.0,252.5M210.9,276.4 210.9,298.0 208.1,313.0 208.1,328.0M240.0,290.5 237.2,298.0 234.4,307.4 229.7,313.0 223.1,320.5 219.4,328.0M209.7,310.0 208.8,325.0 207.8,342.8 210.6,347.5 212.5,351.2 217.2,351.2 214.4,347.5 213.4,340.0 215.3,334.4 220.0,325.0 224.7,317.5 231.2,310.0M225.2,344.3 226.0,344.3M225.6,369.6 220.0,371.9 216.2,375.6 217.2,378.4 221.9,379.4 222.8,385.0 222.8,392.5M225.6,369.6 224.1,373.8 223.4,378.4 221.9,379.4M222.8,392.5 231.2,396.2 240.6,398.1 257.5,398.1 261.2,395.3 272.5,390.6 283.8,385.9 295.0,382.2M175.0,388.8 193.8,388.8 205.0,387.2 210.6,385.0 213.4,381.2M206.9,385.0 212.5,381.2 213.4,385.9 206.9,385.0M197.5,397.2 212.5,394.4 222.8,392.5M294.7,138.8 297.5,135.0 301.2,133.1 306.9,127.5 309.7,122.8 314.4,124.7 316.2,127.5 320.0,126.6 327.5,122.8 335.0,117.2 329.4,114.4 327.5,105.9 323.8,107.8 322.8,112.5 324.7,118.1 319.1,122.8 313.4,120.0 307.8,118.1 306.9,114.4 310.6,108.8 316.2,101.2 322.8,96.6 335.0,93.8 342.5,97.5 350.0,101.2 342.5,102.2 340.6,103.1 344.4,105.9 351.9,105.9 355.6,100.3 361.2,99.4 370.6,98.4 380.0,97.5 385.6,92.8 391.2,94.7 396.9,91.9 402.5,93.8 404.4,90.0M308.8,149.6 316.2,150.9 319.1,155.6 323.8,159.4 324.7,162.2 329.4,159.4 334.1,155.6 336.9,146.2 349.1,143.4 349.1,153.8 338.8,155.6 335.0,156.6 333.1,162.2 335.9,166.9 342.5,165.9 339.7,172.5 339.7,180.0M317.2,147.2 319.1,151.9 323.8,156.6 326.6,162.2 328.4,157.5 321.9,151.9 317.2,147.2M290.0,166.9 299.4,164.1 312.5,162.2 314.4,168.8 324.7,176.2 329.4,172.5 338.8,174.4 340.6,180.0M360.3,144.4 364.1,143.4 365.0,151.9 365.9,160.3 362.2,159.4 360.3,151.9 360.3,144.4M373.4,144.4 376.2,144.4 375.3,149.1 373.4,146.2M391.2,147.2 398.8,143.4M280.0,190.0 283.8,180.6 287.5,173.1 292.2,165.6 300.6,163.8 312.8,162.8 314.7,169.4 325.0,175.9 328.8,172.2 334.4,174.1 340.0,175.0 343.8,166.6M352.2,215.3 362.5,214.4 363.4,216.2 359.7,223.8 356.9,233.1 353.1,240.6 350.3,250.0M363.4,184.4 368.1,187.2 377.5,188.1 383.1,190.9 388.8,196.6 390.6,206.9 394.4,220.0 400.0,214.4M280.0,190.0 280.0,210.6 281.9,220.0 285.6,225.6 293.1,229.4 300.6,227.5 308.1,230.3 310.9,236.9 313.8,250.0M340.9,238.8 340.9,245.3M390.0,203.8 393.8,218.8 399.4,213.1 401.2,205.6 411.6,193.4 420.0,205.6 422.8,211.2 425.6,216.9 432.2,216.9 434.1,194.4 436.9,193.4 446.2,187.8 450.0,185.9 450.9,173.8 450.0,161.6 446.2,158.8 450.9,155.9 455.6,157.8 456.6,166.2 460.3,158.8 461.2,152.2 472.5,140.9M474.4,151.2 475.3,163.4 469.7,166.2 464.1,164.4 465.0,163.4 474.4,160.6M461.2,169.1 464.1,168.1 462.2,173.8 461.2,169.1M398.4,220.6 399.4,226.2M450.9,200.9 451.9,209.4 450.0,210.3 450.0,201.9 450.9,200.9M448.1,215.0 452.8,222.5 455.6,218.8 454.7,225.3M405.0,87.1 410.6,83.3 420.0,81.4 427.5,79.6 433.1,82.4 439.7,83.3 435.0,86.1 442.5,87.1 455.6,88.0 459.4,90.8 463.1,91.8 472.5,88.9 483.8,89.9 489.4,92.7 498.8,93.6 510.0,94.6 517.5,95.5 524.1,97.4M414.4,73.0 419.1,72.1 423.8,75.8 425.6,75.8M470.6,82.4 476.2,82.4 483.8,84.2 474.4,84.2 470.6,82.4M525.0,103.9 521.2,109.6 513.8,112.4 503.4,115.2 502.5,112.4 495.0,111.4 493.1,115.2 491.2,117.1 474.4,118.0 470.6,125.5 469.7,128.3 472.5,133.0 470.6,138.6 465.9,148.0M495.0,111.4 503.4,112.8 500.6,119.9 494.1,133.0 493.1,121.8 495.0,115.2M474.4,126.4 476.2,136.8 477.2,148.0M513.8,129.2 514.3,129.6M519.4,132.1 519.8,132.4M315.9,75.8 320.6,74.9 333.8,74.5 328.1,77.7 320.6,80.5 318.8,76.8 315.9,75.8M353.4,73.9 361.9,74.5M365.6,89.9 371.2,92.7 369.4,88.9 375.0,84.2 384.4,80.5 376.9,82.4 367.5,87.1 365.6,89.9M350.6,100.2 347.8,102.1 341.2,103.0 343.1,105.8 350.6,105.8 356.2,99.2 360.0,99.2 375.0,97.4 384.4,95.5 387.2,91.8 391.9,91.8 395.6,95.5 393.8,90.8 402.2,88.0 412.5,82.4 420.0,80.5M390.0,91.8 391.9,99.2 386.2,102.1 393.8,99.2M433.1,200.0 433.1,215.9 429.4,216.9 423.8,211.2 420.9,206.6 415.3,200.0M423.8,211.2 422.8,216.9 424.7,222.5 425.6,230.0M417.2,226.2 425.6,234.7 430.3,244.1 425.6,244.1 417.2,226.2M445.3,224.4 447.2,237.5 441.6,245.0 435.9,240.3 445.3,224.4M431.2,250.6 435.9,253.4 441.6,254.4 433.1,253.4 431.2,250.6M450.0,200.0 450.0,209.4 452.8,207.5M451.9,224.4 455.6,218.8 455.6,225.3 451.9,224.4M462.2,242.2 475.3,243.1 485.6,259.1 472.5,254.4 462.2,242.2M441.6,290.0 442.5,280.6 450.0,276.9 455.6,268.4 459.4,269.4 464.1,260.9 468.8,264.7 471.6,272.2 476.2,260.0 479.1,271.2 483.8,280.6 487.5,290.0M503.4,279.7 503.8,280.2M521.2,272.2 522.2,271.2M454.7,270.0 450.0,277.5 442.5,281.2 441.6,294.4 443.4,305.6 450.0,307.5 461.2,302.8 465.0,304.7 470.6,310.3 473.4,315.9 480.0,316.9 485.6,310.3 487.5,296.2 489.4,293.4 483.8,281.2 480.0,270.0M479.1,322.5 481.9,326.2 483.8,325.3M514.7,308.4 519.4,318.8 517.5,314.1M513.8,321.6 515.6,325.3 509.1,332.8 512.8,328.1M503.4,279.4 503.8,279.9M77.5,399.2 96.2,399.2 102.5,398.2M96.2,399.2 100.0,402.5M77.5,412.0 90.0,412.5 107.5,413.8 115.0,414.5 108.8,403.8 111.2,397.0 125.0,393.8 142.5,390.0 150.0,389.5 157.5,391.2 161.2,393.0 170.0,391.2 177.5,388.8 192.5,388.8 207.5,387.5 217.5,385.0 225.0,370.0M225.0,369.5 226.2,373.8 222.5,382.5 223.8,392.5 235.0,397.5M218.8,375.0 215.0,382.5 213.8,387.5 220.0,385.0 225.0,369.5M207.5,382.5 213.8,380.0 210.0,387.5M197.5,397.5 215.0,396.2 223.8,393.0M197.5,397.5 205.0,401.2 215.0,403.8 225.0,403.8 235.0,402.5M235.0,397.5 245.0,398.0 257.5,397.5 260.0,396.2 270.0,391.2 285.0,385.8 297.5,380.0 305.0,383.0 332.5,383.0 340.0,380.5 346.2,382.5 357.5,376.2 365.0,374.5 375.0,377.5 385.0,378.8 387.5,383.8 395.0,381.2M235.0,400.0 245.0,403.8 260.0,403.8 257.5,397.5M297.5,380.0 292.5,385.0 302.5,385.0 305.0,383.0M323.8,383.0 330.0,385.0 332.5,383.0M375.0,377.5 386.2,378.8 385.0,383.8 390.0,381.2 397.5,378.8 405.0,375.5 420.0,374.5 440.0,375.0 447.5,377.0 455.0,374.5 470.0,374.5 480.0,377.5 495.0,381.2 511.2,386.2 505.0,392.5 502.5,400.0 507.5,407.5 517.5,410.0M502.5,398.8 510.0,397.5 522.5,399.5M204.4,111.6 211.9,112.5 221.2,117.2 225.0,123.8 228.8,130.3 230.6,134.1 232.5,142.5 226.9,140.6 225.0,135.0 215.6,138.8 211.9,142.5 206.2,146.2 197.8,150.0 195.0,146.2 187.5,140.6 184.7,138.8M215.6,140.6 210.0,150.0 206.2,157.5 204.4,161.2 200.6,168.8 199.7,180.0M177.2,127.5 178.1,135.0M180.0,135.9 184.7,134.1M307.8,230.0 312.5,239.4 315.3,254.4 316.2,263.8 314.4,275.0 318.1,290.0 321.9,301.2 323.8,311.6 332.2,309.7 338.8,299.4 344.4,286.2 349.1,267.5 349.1,252.5 353.8,241.2 358.4,230.0M360.3,264.7 354.7,278.8 354.7,290.0 360.3,278.8 360.3,264.7M340.6,238.4 341.6,245.0M295.0,138.1 296.9,140.6 298.1,144.4 291.9,148.8 290.0,152.5 288.8,157.5 291.2,162.5 298.8,162.5 301.2,159.4 303.1,153.1 308.8,150.0 313.8,151.2 316.9,154.4 319.4,157.5 322.5,157.5M291.9,118.1 295.6,120.6 297.5,125.0 300.0,130.0 301.2,133.8 295.0,135.6 296.9,131.2 293.8,126.2 291.9,118.1M287.5,128.8 290.6,125.6 292.5,128.1 288.8,132.5 287.5,128.8M187.7,71.2 194.7,70.3 205.6,68.1 218.1,67.3 220.9,70.0M190.0,75.6 199.4,73.8 208.8,72.5 216.6,71.2M186.9,81.9 196.2,80.3 205.6,78.4 213.4,77.2 218.1,75.6M193.1,86.6 205.6,89.7 216.6,95.9 221.2,102.2 218.1,106.9 213.4,104.5 210.3,107.7 204.1,106.9 199.4,103.8 194.7,103.8 186.9,106.9 182.2,106.9M193.1,86.6 186.9,88.9 182.2,92.8 183.8,95.9 191.6,95.9M140.0,93.6 149.4,95.2 158.8,96.7 171.2,97.5 180.6,99.4 183.0,103.8 182.2,106.9 181.4,116.2 186.9,122.5 197.8,122.5 200.9,131.9M202.5,131.9 204.1,111.6M146.2,85.8 150.9,85.0 155.6,89.7 165.0,89.7 165.0,83.4 160.3,81.1 154.1,81.9 147.8,81.1 146.2,85.8M146.2,102.2 152.5,101.4 155.6,106.9 163.4,110.0 158.8,111.6 149.4,106.9 146.2,102.2M155.6,78.0 163.4,77.2 168.1,80.3 163.4,83.4 155.6,83.4 155.6,78.0M169.7,75.6 177.5,80.3M172.8,86.6 177.5,88.1 175.9,91.2 172.8,89.7 172.8,86.6M179.1,78.8 186.9,81.9M158.8,117.8 171.2,117.0 172.8,122.5 165.0,118.6 158.8,117.8M148.0,81.7 155.0,79.6M159.2,78.9 163.4,77.5M155.9,81.2 161.6,82.2 164.4,80.3 167.7,83.6 158.8,84.5 155.9,81.2M146.1,86.8 149.4,85.9 152.2,89.2 162.5,89.2 165.3,87.8 168.1,89.2 171.9,93.9 173.8,95.3 170.9,95.8 165.3,96.5 157.8,95.6 155.0,92.0M169.1,76.1 172.8,77.9 175.6,79.8 177.5,81.7 174.7,83.1M179.4,77.5 181.2,80.3 184.1,82.2 188.8,81.7M186.9,70.9 192.5,70.0 200.0,68.6M190.6,74.2 196.2,74.7 200.0,73.7M191.6,77.0 196.2,76.1M185.0,81.7 192.5,82.2 200.0,82.2M172.8,87.3 175.6,86.8 177.5,90.1 175.6,92.0 172.8,88.7 172.8,87.3M181.2,88.2 184.1,86.8 184.1,89.2 181.2,88.7M178.4,92.0 182.2,93.9 185.0,96.7M188.8,91.1 192.5,86.4 196.2,85.4M145.6,101.4 153.1,101.8 151.2,103.2 145.6,103.2 145.6,101.4M180.3,106.1 188.8,105.1 192.5,102.3 196.2,99.5 198.1,97.6M99.0,192.0 101.0,193.0 103.0,195.0M185.0,237.0 186.0,239.0M84.0,266.0 86.0,266.0M340.4,178.4 343.4,183.1 346.7,189.7 349.1,196.2 351.4,202.8 353.6,208.4 357.5,211.2 363.1,207.5 370.6,200.9 372.5,192.5 369.7,190.6 365.9,187.8 363.1,185.0 362.2,178.4M339.7,177.5 341.6,182.2 343.9,188.8 345.8,194.4 347.7,200.0 349.5,205.6 350.9,210.3 352.1,215.9" fill="none" stroke="#1e90ff" stroke-width="1" shape-rendering="crispEdges"/><rect x="74.5" y="57.5" width="450" height="362" fill="none" stroke="#000" stroke-width="1"/><text x="39.00" y="406.54" font-size="15" font-family="Liberation Sans, sans-serif" letter-spacing="0.6">-80</text><text x="39.00" y="365.38" font-size="15" font-family="Liberation Sans, sans-serif" letter-spacing="0.6">-60</text><text x="39.00" y="324.22" font-size="15" font-family="Liberation Sans, sans-serif" letter-spacing="0.6">-40</text><text x="39.00" y="283.06" font-size="15" font-family="Liberation Sans, sans-serif" letter-spacing="0.6">-20</text><text x="53.00" y="241.90" font-size="15" font-family="Liberation Sans, sans-serif" letter-spacing="0.6">0</text><text x="44.00" y="200.74" font-size="15" font-family="Liberation Sans, sans-serif" letter-spacing="0.6">20</text><text x="44.00" y="159.58" font-size="15" font-family="Liberation Sans, sans-serif" letter-spacing="0.6">40</text><text x="44.00" y="118.42" font-size="15" font-family="Liberation Sans, sans-serif" letter-spacing="0.6">60</text><text x="44.00" y="77.26" font-size="15" font-family="Liberation Sans, sans-serif" letter-spacing="0.6">80</text><text x="96.05" y="441.75" font-size="15" font-family="Liberation Sans, sans-serif" letter-spacing="0.6">-150</text><text x="158.20" y="441.75" font-size="15" font-family="Liberation Sans, sans-serif" letter-spacing="0.6">-100</text><text x="224.00" y="441.75" font-size="15" font-family="Liberation Sans, sans-serif" letter-spacing="0.6">-50</text><text x="294.85" y="441.75" font-size="15" font-family="Liberation Sans, sans-serif" letter-spacing="0.6">0</text><text x="351.90" y="441.75" font-size="15" font-family="Liberation Sans, sans-serif" letter-spacing="0.6">50</text><text x="409.60" y="441.75" font-size="15" font-family="Liberation Sans, sans-serif" letter-spacing="0.6">100</text><text x="471.95" y="441.75" font-size="15" font-family="Liberation Sans, sans-serif" letter-spacing="0.6">150</text><defs><linearGradient id="cb" x1="0" y1="0" x2="0" y2="1"><stop offset="0.0000" stop-color="#ffff00"/><stop offset="0.0167" stop-color="#fdf200"/><stop offset="0.0333" stop-color="#fbe600"/><stop offset="0.0500" stop-color="#f9db00"/><stop offset="0.0667" stop-color="#f6cf00"/><stop offset="0.0833" stop-color="#f4c400"/><stop offset="0.1000" stop-color="#f2ba00"/><stop offset="0.1167" stop-color="#f0b000"/><stop offset="0.1333" stop-color="#eda600"/><stop offset="0.1500" stop-color="#eb9d00"/><stop offset="0.1667" stop-color="#e99400"/><stop offset="0.1833" stop-color="#e68b00"/><stop offset="0.2000" stop-color="#e48300"/><stop offset="0.2167" stop-color="#e27b00"/><stop offset="0.2333" stop-color="#df7300"/><stop offset="0.2500" stop-color="#dd6c00"/><stop offset="0.2667" stop-color="#da6500"/><stop offset="0.2833" stop-color="#d85e00"/><stop offset="0.3000" stop-color="#d55700"/><stop offset="0.3167" stop-color="#d35100"/><stop offset="0.3333" stop-color="#d04c00"/><stop offset="0.3500" stop-color="#ce4600"/><stop offset="0.3667" stop-color="#cb4100"/><stop offset="0.3833" stop-color="#c83c00"/><stop offset="0.4000" stop-color="#c63700"/><stop offset="0.4167" stop-color="#c33300"/><stop offset="0.4333" stop-color="#c02e00"/><stop offset="0.4500" stop-color="#bd2a00"/><stop offset="0.4667" stop-color="#ba2700"/><stop offset="0.4833" stop-color="#b72300"/><stop offset="0.5000" stop-color="#b42000"/><stop offset="0.5167" stop-color="#b11d1b"/><stop offset="0.5333" stop-color="#ae1a35"/><stop offset="0.5500" stop-color="#ab174f"/><stop offset="0.5667" stop-color="#a81568"/><stop offset="0.5833" stop-color="#a5127f"/><stop offset="0.6000" stop-color="#a11096"/><stop offset="0.6167" stop-color="#9e0eab"/><stop offset="0.6333" stop-color="#9a0dbe"/><stop offset="0.6500" stop-color="#970bce"/><stop offset="0.6667" stop-color="#9309dd"/><stop offset="0.6833" stop-color="#8f08e9"/><stop offset="0.7000" stop-color="#8c07f3"/><stop offset="0.7167" stop-color="#8806f9"/><stop offset="0.7333" stop-color="#8405fe"/><stop offset="0.7500" stop-color="#8004ff"/><stop offset="0.7667" stop-color="#7b03fe"/><stop offset="0.7833" stop-color="#7703f9"/><stop offset="0.8000" stop-color="#7202f3"/><stop offset="0.8167" stop-color="#6d02e9"/><stop offset="0.8333" stop-color="#6801dd"/><stop offset="0.8500" stop-color="#6301ce"/><stop offset="0.8667" stop-color="#5d01be"/><stop offset="0.8833" stop-color="#5700ab"/><stop offset="0.9000" stop-color="#510096"/><stop offset="0.9167" stop-color="#4a0080"/><stop offset="0.9333" stop-color="#420068"/><stop offset="0.9500" stop-color="#39004f"/><stop offset="0.9667" stop-color="#2f0035"/><stop offset="0.9833" stop-color="#21001b"/><stop offset="1.0000" stop-color="#000000"/></linearGradient></defs><rect x="535" y="57" width="23" height="363" fill="url(#cb)"/><rect x="535.5" y="57.5" width="22" height="362" fill="none" stroke="#000" stroke-width="1"/><path d="M535,419.5h5M553,419.5h5" stroke="#000" stroke-width="1"/><text x="571.40" y="422.90" font-size="15" font-family="Liberation Sans, sans-serif" letter-spacing="0.6">0</text><path d="M535,359.2h5M553,359.2h5" stroke="#000" stroke-width="1"/><text x="571.40" y="362.67" font-size="15" font-family="Liberation Sans, sans-serif" letter-spacing="0.6">2</text><path d="M535,298.8h5M553,298.8h5" stroke="#000" stroke-width="1"/><text x="572.40" y="302.43" font-size="15" font-family="Liberation Sans, sans-serif" letter-spacing="0.6">4</text><path d="M535,238.5h5M553,238.5h5" stroke="#000" stroke-width="1"/><text x="571.40" y="242.20" font-size="15" font-family="Liberation Sans, sans-serif" letter-spacing="0.6">6</text><path d="M535,178.2h5M553,178.2h5" stroke="#000" stroke-width="1"/><text x="571.40" y="181.96" font-size="15" font-family="Liberation Sans, sans-serif" letter-spacing="0.6">8</text><path d="M535,117.8h5M553,117.8h5" stroke="#000" stroke-width="1"/><text x="571.40" y="121.73" font-size="15" font-family="Liberation Sans, sans-serif" letter-spacing="0.6">10</text><path d="M535,57.5h5M553,57.5h5" stroke="#000" stroke-width="1"/><text x="571.40" y="61.50" font-size="15" font-family="Liberation Sans, sans-serif" letter-spacing="0.6">12</text><text x="135.75" y="31.70" font-size="15" font-family="Liberation Sans, sans-serif" letter-spacing="0.6">StdDev_VTEC / TECU 20100725_206.12600</text><text x="241.25" y="469.70" font-size="15" font-family="Liberation Sans, sans-serif" letter-spacing="0.6">Longitude / deg</text><text transform="translate(17.15,288.6) rotate(-90)" font-size="15" font-family="Liberation Sans, sans-serif" letter-spacing="0.6">Latitude / deg</text></svg></body></html>
